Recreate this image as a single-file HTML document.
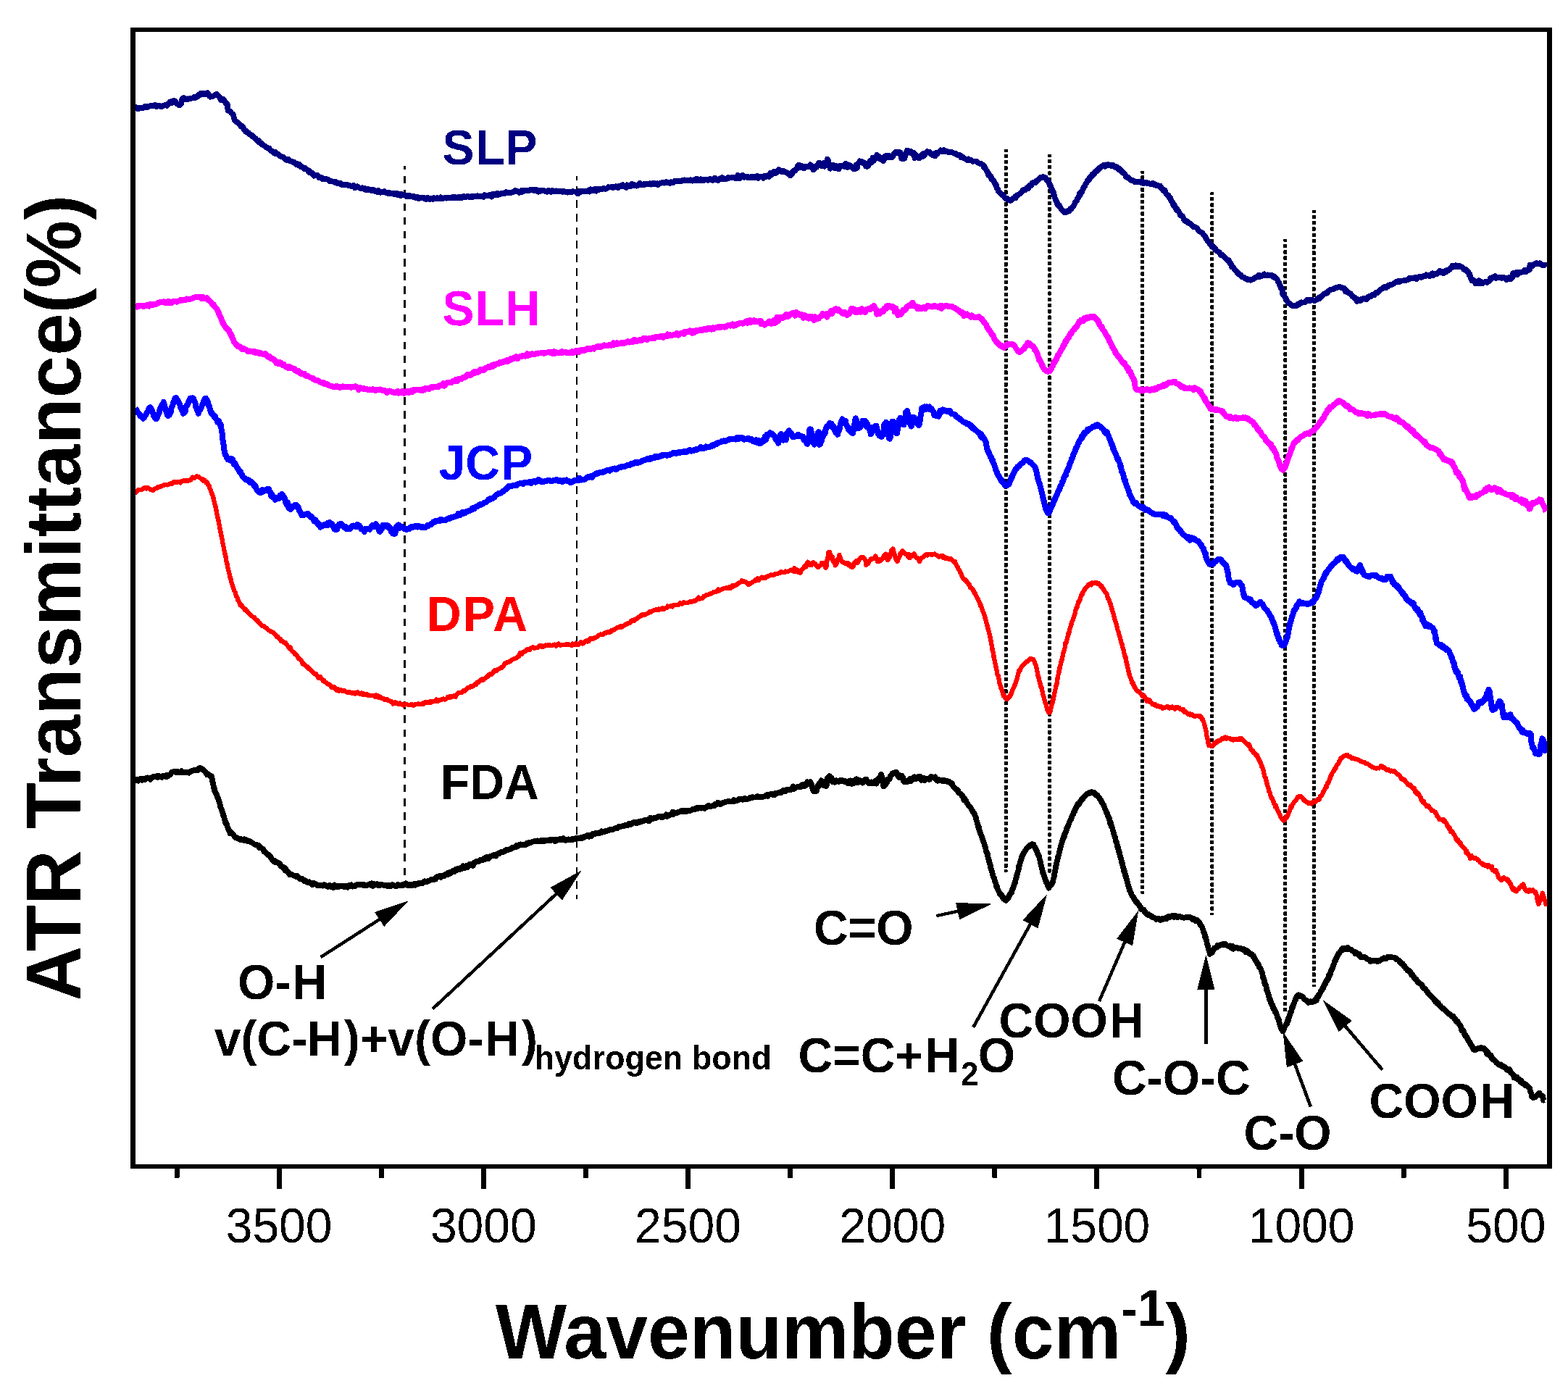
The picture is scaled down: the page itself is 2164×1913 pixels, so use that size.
<!DOCTYPE html>
<html><head><meta charset="utf-8"><title>ATR FTIR spectra</title>
<style>html,body{margin:0;padding:0;background:#fff;overflow:hidden}svg{display:block}</style>
</head><body>
<svg width="2164" height="1913" viewBox="0 0 2164 1913" font-family="'Liberation Sans', Arial, sans-serif"><rect x="0" y="0" width="2164" height="1913" fill="#fff"/><defs><filter id="bin" x="0" y="0" width="2164" height="1913" filterUnits="userSpaceOnUse"><feComponentTransfer><feFuncA type="discrete" tableValues="0 1"/></feComponentTransfer></filter></defs><g filter="url(#bin)"><line x1="558.4" y1="229" x2="558.4" y2="1223" stroke="#000" stroke-width="3.2" stroke-dasharray="10.2 8.9" stroke-dashoffset="5.4"/>
<line x1="796.1" y1="243" x2="796.1" y2="1240.6" stroke="#000" stroke-width="2.6" stroke-dasharray="10.5 8.3" stroke-dashoffset="4.5"/>
<line x1="1388.4" y1="206.0" x2="1388.4" y2="1203.4" stroke="#000" stroke-width="4.9" stroke-dasharray="5.2 3.1" stroke-dashoffset="1.5"/>
<line x1="1448.5" y1="213.0" x2="1448.5" y2="1205.0" stroke="#000" stroke-width="4.9" stroke-dasharray="5.2 3.1" stroke-dashoffset="1.5"/>
<line x1="1576.6" y1="235.8" x2="1576.6" y2="1233.6" stroke="#000" stroke-width="4.9" stroke-dasharray="5.2 3.1" stroke-dashoffset="1.5"/>
<line x1="1672.8" y1="265.2" x2="1672.8" y2="1263.0" stroke="#000" stroke-width="4.9" stroke-dasharray="5.2 3.1" stroke-dashoffset="1.5"/>
<line x1="1773.8" y1="330.1" x2="1773.8" y2="1396.4" stroke="#000" stroke-width="4.9" stroke-dasharray="5.2 3.1" stroke-dashoffset="1.5"/>
<line x1="1813.3" y1="290.0" x2="1813.3" y2="1362.3" stroke="#000" stroke-width="4.9" stroke-dasharray="5.2 3.1" stroke-dashoffset="1.5"/>
<polyline points="187.0,150.8 188.0,148.3 189.4,149.8 191.0,149.9 192.8,148.4 194.8,148.6 196.7,149.3 198.7,148.6 200.5,146.9 202.1,148.4 203.5,147.8 205.5,146.3 206.8,146.4 207.9,146.0 209.3,146.3 211.3,145.6 212.6,146.4 214.0,145.1 215.6,147.1 217.3,145.6 219.1,145.6 220.9,146.0 222.7,147.3 224.4,146.4 226.0,145.3 227.6,145.4 228.9,145.2 230.7,145.9 232.3,142.9 233.6,142.9 234.9,140.3 236.1,140.4 237.4,141.8 238.7,140.3 240.2,139.0 241.7,139.5 243.2,142.3 244.7,143.5 246.1,144.1 247.4,145.4 248.5,144.4 249.4,144.0 250.0,143.3 250.3,140.9 250.7,140.7 251.4,136.5 252.4,135.7 253.6,135.0 255.1,136.5 256.7,136.8 258.5,136.4 260.3,136.6 262.2,135.8 264.0,135.8 265.5,135.3 267.1,135.1 268.7,133.5 270.4,134.8 272.0,133.8 273.6,131.0 275.2,130.3 276.6,128.9 277.8,130.7 280.0,129.7 281.7,128.5 283.1,129.8 284.7,128.9 286.0,128.1 287.4,129.7 288.7,132.1 290.1,133.7 291.5,132.8 293.0,133.1 294.7,132.3 296.3,131.4 297.9,130.5 299.4,129.8 300.5,131.3 301.4,131.8 302.3,133.0 303.2,134.3 304.1,136.4 305.2,138.4 306.5,137.5 307.9,136.8 309.3,138.7 310.8,140.4 312.0,143.3 313.0,143.0 313.6,146.5 314.0,144.5 314.1,148.3 314.3,149.5 314.5,151.1 315.0,153.0 316.2,153.5 317.8,153.8 319.5,156.1 320.9,157.3 321.5,157.7 322.0,158.9 322.4,161.0 322.8,163.3 323.3,163.4 324.0,165.8 324.8,166.6 325.8,167.7 327.0,168.5 328.3,168.8 329.7,170.4 331.1,171.8 332.4,174.2 333.6,173.7 334.6,174.7 335.9,176.4 336.6,178.4 337.2,178.6 338.5,180.9 339.4,182.0 340.5,181.2 341.7,183.1 342.9,183.4 344.2,185.1 345.6,186.0 346.9,186.2 348.3,188.2 349.4,188.0 350.5,189.9 351.5,190.5 352.7,191.0 353.8,192.7 354.9,194.0 356.1,195.5 357.4,194.2 358.7,196.6 360.0,198.1 361.2,197.9 362.4,199.9 363.6,200.2 364.9,201.1 366.3,202.5 367.6,203.8 369.0,203.7 370.3,204.9 371.7,205.0 373.0,207.3 374.4,208.2 375.7,208.6 377.1,210.4 378.6,211.6 380.0,210.2 381.5,212.3 383.0,212.3 384.4,213.5 385.8,214.9 387.3,215.6 388.7,216.5 390.1,216.4 391.4,217.5 392.8,218.6 394.2,219.6 395.4,221.0 396.7,220.7 398.0,219.6 399.2,221.5 400.5,222.5 401.9,222.5 403.4,223.6 405.0,223.3 406.2,224.7 407.6,225.4 408.9,227.0 410.4,225.9 411.9,228.3 413.4,227.4 414.9,230.2 416.4,230.5 417.9,230.5 419.4,232.8 420.8,231.9 422.2,233.2 423.4,233.9 424.6,234.2 426.2,237.6 427.6,236.2 428.9,237.6 430.1,238.2 431.2,240.7 432.3,240.0 433.5,242.6 434.9,242.0 436.4,241.8 437.7,241.6 439.0,242.9 440.3,245.2 441.8,245.0 443.2,244.9 444.7,246.8 446.2,246.5 447.8,246.5 449.3,246.3 450.9,247.5 452.4,247.6 454.0,248.4 455.4,250.3 456.9,250.3 458.4,250.4 459.9,250.7 461.4,251.1 462.9,252.3 464.4,251.4 465.9,253.3 467.4,252.8 469.0,253.8 470.5,253.1 472.0,255.1 473.5,255.4 475.1,254.8 476.8,254.5 478.4,255.6 480.0,255.4 481.7,255.8 483.3,256.5 484.9,257.0 486.6,257.0 488.2,255.9 489.8,259.2 491.5,258.0 493.1,257.2 494.7,258.6 496.4,259.5 498.0,260.1 499.6,259.2 501.3,260.6 502.9,259.8 504.5,261.8 506.2,262.0 507.8,260.6 509.4,261.3 511.1,262.6 512.7,263.1 514.3,261.7 515.9,262.4 517.4,263.8 519.0,264.2 520.5,265.0 522.1,262.6 523.6,265.5 525.2,265.8 526.9,265.4 528.6,265.3 530.4,264.2 532.2,265.8 533.6,265.8 535.1,266.8 536.6,265.5 538.1,266.2 539.6,267.5 541.2,266.7 542.7,266.8 544.3,268.3 546.0,267.3 547.6,266.6 549.3,269.1 551.0,268.1 552.7,270.0 554.4,268.1 556.1,269.4 557.9,269.4 559.4,269.5 560.9,271.5 562.3,270.4 563.8,269.6 565.3,270.8 566.8,270.3 568.3,270.5 569.8,271.8 571.4,271.1 572.9,271.7 574.5,273.2 576.2,271.7 577.8,274.0 579.5,272.6 581.3,273.4 583.0,272.7 584.9,272.9 586.8,274.7 588.7,274.9 590.1,272.8 591.4,274.1 592.9,275.0 594.3,273.9 595.8,273.6 597.3,274.8 598.8,273.2 600.3,273.9 601.9,274.6 603.4,273.0 605.0,274.2 606.6,274.2 608.2,272.3 609.9,274.1 611.5,274.1 613.1,273.2 614.8,273.1 616.4,273.8 618.1,272.7 619.7,272.9 621.4,272.8 623.0,273.4 624.7,272.0 626.3,273.4 627.9,271.9 629.5,272.9 631.1,273.1 632.7,272.0 634.3,271.9 635.8,273.3 637.4,273.4 639.0,271.4 640.6,271.1 642.1,271.8 643.7,271.9 645.3,270.8 646.9,271.6 648.4,272.2 650.0,271.1 651.6,272.2 653.2,270.7 654.8,271.2 656.3,270.6 657.9,270.6 659.5,270.1 661.1,271.0 662.6,270.3 664.2,271.1 665.8,270.5 667.4,271.9 668.9,269.2 670.5,270.2 672.1,270.1 673.7,270.0 675.2,269.3 676.8,268.9 678.4,271.6 680.0,268.1 681.6,269.6 683.2,268.2 684.9,269.1 686.5,266.6 688.1,268.6 689.8,268.6 691.5,267.0 693.1,267.2 694.8,266.7 696.4,267.2 698.1,265.1 699.7,265.5 701.3,265.7 703.0,266.1 704.6,265.9 706.2,265.7 707.7,265.1 709.3,264.1 710.8,263.0 712.3,263.3 713.8,263.9 715.3,264.1 716.7,265.7 718.1,264.5 719.5,265.1 720.8,262.5 722.8,263.8 724.6,262.5 726.4,262.7 728.0,262.5 729.6,262.8 731.1,262.9 732.5,261.7 734.0,261.7 735.4,262.1 736.8,263.1 738.3,262.8 739.7,261.6 741.3,262.5 742.9,264.7 744.5,264.3 746.3,262.7 748.2,262.3 750.2,263.3 751.6,263.3 753.0,264.0 754.4,264.7 756.0,263.3 757.5,263.0 759.1,264.1 760.7,264.9 762.4,262.8 764.1,264.1 765.8,264.0 767.5,263.2 769.2,264.3 771.0,263.8 772.7,263.8 774.5,264.1 776.2,264.8 778.0,263.8 779.7,264.4 781.4,265.3 783.1,265.6 784.8,264.6 786.5,265.0 788.1,265.4 789.7,264.2 791.3,264.5 792.8,264.3 794.3,264.7 795.7,265.1 797.5,267.2 799.3,264.3 801.1,264.9 802.8,264.1 804.4,264.2 806.0,264.1 807.6,264.6 809.1,264.2 810.6,264.3 812.1,262.9 813.6,264.5 815.1,261.2 816.6,262.1 818.1,262.9 819.6,263.3 821.1,260.5 822.6,263.7 824.2,260.7 825.7,261.6 827.4,261.6 829.0,261.0 830.5,261.2 832.1,260.2 833.6,260.2 835.2,260.8 836.8,260.5 838.4,259.8 839.9,258.2 841.5,258.5 843.2,258.3 844.8,257.9 846.4,259.3 848.0,258.0 849.6,257.2 851.2,258.7 852.9,259.0 854.5,256.7 856.1,257.0 857.7,256.8 859.4,255.1 861.0,256.9 862.6,257.3 864.2,258.7 865.8,255.3 867.4,257.1 869.0,257.0 870.5,257.0 872.0,253.5 873.6,256.3 875.1,254.9 876.6,255.6 878.1,256.6 879.6,256.6 881.1,254.8 882.6,252.9 884.2,255.1 885.7,255.2 887.3,255.4 888.8,253.8 890.4,254.8 892.1,253.9 893.7,253.5 895.4,253.7 897.1,253.2 898.9,254.5 900.7,253.0 902.5,254.1 903.9,253.1 905.3,253.9 906.8,253.2 908.3,255.0 909.8,253.4 911.4,253.1 913.0,252.2 914.6,251.5 916.2,252.6 917.8,251.7 919.5,251.2 921.1,251.7 922.8,251.9 924.4,252.9 926.1,251.2 927.8,252.0 929.5,252.0 931.1,249.9 932.8,250.2 934.5,249.8 936.1,249.7 937.7,249.5 939.4,249.6 940.9,249.8 942.5,248.7 944.1,248.4 945.6,248.3 947.1,249.4 948.6,249.4 950.0,248.8 951.4,248.9 953.2,248.1 955.0,249.6 956.8,248.3 958.5,248.2 960.2,249.5 961.8,246.7 963.4,248.4 965.0,249.3 966.6,247.3 968.2,248.8 969.7,247.9 971.2,248.9 972.7,247.4 974.2,248.1 975.7,248.3 977.2,248.8 978.7,247.6 980.3,246.9 981.8,247.9 983.3,248.8 984.9,247.1 986.4,245.6 988.0,247.8 989.6,248.6 991.3,248.8 992.9,247.0 994.7,246.8 996.4,244.9 998.1,247.1 999.9,246.7 1001.6,247.4 1003.4,246.3 1005.1,244.9 1006.9,245.5 1008.6,245.3 1010.3,245.0 1012.0,245.0 1013.6,245.7 1015.2,245.0 1016.7,245.9 1018.2,241.7 1019.7,243.5 1021.1,246.0 1022.4,244.9 1023.6,244.6 1024.8,241.8 1027.2,244.8 1029.2,243.5 1030.8,244.9 1032.2,243.9 1033.5,244.9 1034.6,244.6 1035.8,244.5 1037.0,244.0 1038.4,245.0 1040.0,243.9 1041.5,244.9 1043.1,244.8 1044.8,243.0 1046.5,245.9 1048.3,243.6 1050.0,243.6 1051.8,244.0 1053.5,245.8 1055.2,242.5 1056.7,244.2 1058.2,243.4 1059.6,242.0 1061.5,243.8 1063.2,239.1 1064.7,241.5 1066.2,239.7 1067.5,237.1 1068.8,237.7 1070.1,239.0 1071.3,238.6 1073.0,235.6 1074.5,234.1 1075.9,234.7 1077.3,236.5 1079.1,237.3 1080.4,235.7 1081.9,236.6 1083.4,237.3 1085.0,238.3 1086.6,238.4 1088.1,239.9 1089.6,240.6 1090.9,242.5 1092.1,239.0 1093.1,240.0 1093.9,238.8 1094.7,236.0 1095.7,236.5 1097.0,235.8 1098.7,233.2 1099.9,233.1 1101.2,228.3 1102.7,227.9 1104.4,231.3 1106.1,228.5 1107.9,230.3 1109.6,232.3 1111.4,230.3 1113.0,229.4 1114.6,230.5 1116.0,230.1 1117.3,229.3 1118.3,227.2 1120.6,229.4 1121.2,230.7 1122.2,234.3 1123.1,234.3 1124.1,230.5 1125.3,229.8 1126.5,231.1 1127.7,227.9 1128.9,227.4 1130.0,224.6 1131.3,227.3 1132.7,225.6 1134.1,229.2 1135.5,226.9 1136.7,225.1 1137.8,229.7 1138.8,227.8 1139.7,226.5 1140.4,224.4 1141.1,224.3 1141.8,219.8 1142.5,221.5 1143.0,221.3 1143.6,224.1 1144.4,228.2 1145.7,232.7 1147.0,231.0 1148.5,228.0 1150.3,228.0 1152.1,232.0 1154.0,228.8 1155.8,230.9 1157.4,233.5 1159.1,228.8 1160.7,228.6 1162.3,228.8 1163.9,229.2 1165.5,229.7 1167.2,225.6 1168.6,229.6 1170.0,230.9 1171.5,227.6 1173.0,230.0 1174.6,229.2 1176.1,231.3 1177.5,232.7 1178.9,231.0 1180.2,233.1 1181.5,228.1 1182.8,231.9 1184.0,225.7 1185.2,225.3 1186.4,222.4 1187.6,224.0 1188.7,222.7 1190.1,223.5 1191.3,225.4 1192.4,226.2 1193.6,225.4 1195.0,229.5 1196.6,226.1 1197.6,229.4 1198.6,228.0 1199.8,226.3 1201.0,222.0 1202.2,222.3 1203.5,223.7 1204.7,217.8 1206.0,221.7 1207.2,218.3 1208.3,218.0 1209.3,217.5 1210.3,213.7 1212.0,218.5 1213.4,216.0 1214.7,217.4 1215.9,220.3 1217.0,218.1 1218.1,220.3 1219.2,222.1 1220.2,219.2 1221.2,215.7 1222.1,215.1 1223.0,216.6 1224.0,214.8 1225.4,217.3 1226.7,214.7 1228.1,216.5 1229.8,216.0 1230.8,217.1 1231.8,215.9 1232.9,214.5 1234.0,211.9 1235.2,211.9 1236.3,209.9 1237.5,211.4 1238.6,210.8 1239.7,210.2 1240.9,211.8 1242.0,210.0 1243.2,213.5 1244.3,218.7 1245.4,217.8 1246.4,218.9 1247.4,217.6 1248.3,218.5 1249.1,215.5 1249.8,214.1 1250.5,211.0 1251.3,212.1 1252.2,207.5 1253.3,208.7 1254.4,208.8 1255.5,209.7 1256.8,209.1 1258.2,211.9 1259.6,212.7 1261.0,210.8 1262.4,218.1 1263.8,213.7 1265.0,216.4 1266.5,217.1 1268.0,218.2 1269.4,218.1 1270.8,214.9 1272.2,213.2 1273.5,212.4 1274.8,215.6 1276.5,213.3 1278.2,210.5 1279.8,209.1 1281.3,210.3 1282.7,209.8 1284.2,212.2 1285.5,212.4 1286.8,214.2 1288.5,212.9 1289.6,211.9 1290.8,215.2 1292.1,211.0 1293.5,212.3 1295.0,210.1 1296.6,209.6 1298.3,207.4 1299.7,208.7 1301.2,209.3 1302.8,207.1 1304.4,209.0 1306.2,208.6 1307.9,209.7 1309.5,210.5 1311.1,210.4 1312.6,209.6 1314.0,210.5 1315.7,211.1 1317.2,212.0 1318.6,211.6 1319.9,213.2 1321.2,213.8 1322.5,214.1 1323.8,213.8 1325.2,214.4 1326.5,217.4 1327.8,216.6 1329.1,216.6 1330.4,218.7 1331.9,219.0 1333.5,219.7 1334.9,221.0 1336.4,219.3 1337.9,220.8 1339.5,220.8 1341.2,222.0 1342.8,223.0 1344.3,222.3 1345.8,222.5 1347.2,222.6 1348.8,224.2 1350.3,224.9 1351.8,225.6 1353.1,225.6 1354.5,226.0 1355.7,227.1 1357.0,228.4 1358.0,231.0 1358.9,230.1 1359.8,232.8 1360.6,233.7 1361.5,235.8 1362.3,236.6 1363.2,238.2 1364.0,241.7 1364.9,240.0 1365.8,242.0 1366.7,243.4 1367.6,243.7 1368.5,247.7 1369.4,247.6 1370.2,248.6 1371.1,249.3 1371.9,251.3 1372.7,252.2 1373.5,254.4 1374.3,255.8 1375.0,255.6 1375.6,260.0 1376.3,260.6 1377.0,260.9 1377.8,263.8 1378.6,264.4 1379.6,265.0 1380.7,266.5 1381.9,268.1 1383.1,269.3 1384.3,269.0 1385.4,269.9 1386.4,272.1 1387.9,273.5 1389.2,275.0 1390.6,274.2 1392.3,275.6 1393.5,276.7 1394.9,276.8 1396.4,275.5 1397.9,273.7 1399.4,273.9 1400.8,271.7 1402.0,272.8 1403.3,269.8 1404.3,269.6 1405.2,268.5 1406.3,268.3 1407.9,266.9 1408.9,266.2 1410.0,265.3 1411.3,263.0 1412.6,261.9 1414.0,262.6 1415.4,262.1 1416.8,259.5 1418.2,258.8 1419.5,259.7 1420.6,256.2 1421.6,256.7 1423.3,256.2 1424.4,252.9 1425.4,252.1 1426.4,251.8 1427.8,251.2 1429.0,251.9 1430.4,249.6 1431.9,249.7 1433.4,247.7 1434.9,246.0 1436.3,244.7 1437.6,245.5 1439.5,244.1 1441.2,244.8 1442.8,245.0 1444.5,248.1 1445.2,248.3 1445.9,250.1 1446.5,251.2 1447.2,250.9 1447.8,252.4 1448.5,253.8 1449.2,256.4 1449.9,256.4 1450.6,258.8 1451.3,260.8 1451.9,260.9 1452.4,264.5 1453.0,264.6 1453.6,264.7 1454.2,267.8 1454.8,269.1 1455.4,272.0 1456.0,273.3 1456.7,275.0 1457.3,277.0 1457.9,277.5 1458.5,278.3 1459.1,281.2 1460.1,283.3 1461.1,284.0 1462.1,283.5 1463.2,286.3 1464.2,288.1 1465.2,288.7 1466.1,290.4 1467.0,290.5 1468.5,292.3 1469.8,293.3 1471.1,293.5 1472.8,291.4 1473.7,291.2 1474.7,290.5 1475.8,291.0 1477.0,288.5 1478.2,288.7 1479.3,286.4 1480.5,285.4 1481.6,284.2 1482.6,282.9 1483.5,279.8 1484.3,278.9 1485.1,278.3 1485.8,277.6 1486.6,275.4 1487.3,273.3 1488.1,272.6 1488.8,272.4 1489.6,267.9 1490.5,269.2 1491.2,267.2 1491.9,264.8 1492.6,265.2 1493.3,264.6 1494.1,262.2 1494.9,260.6 1495.6,258.4 1496.4,257.8 1497.1,257.3 1497.9,254.5 1498.7,253.6 1499.4,252.2 1500.2,251.1 1501.2,248.7 1502.2,248.5 1503.1,247.8 1504.1,244.6 1505.1,243.8 1506.1,243.9 1507.1,241.0 1508.0,241.9 1509.0,239.5 1510.0,240.1 1511.2,237.1 1512.5,236.6 1513.7,236.4 1514.9,233.8 1516.1,234.0 1517.3,231.4 1518.6,231.3 1519.8,229.9 1521.5,229.1 1523.1,227.8 1524.8,229.6 1526.5,227.3 1528.1,228.4 1529.6,227.2 1531.3,227.9 1532.8,228.6 1534.2,228.3 1535.7,227.6 1537.4,230.1 1538.7,230.0 1539.9,230.0 1541.3,231.9 1542.6,231.1 1544.1,234.4 1545.6,233.4 1547.2,235.7 1548.3,236.7 1549.4,238.3 1550.6,238.8 1551.8,240.0 1553.1,241.6 1554.3,244.6 1555.6,245.0 1556.9,244.8 1558.2,246.3 1559.6,247.4 1560.9,248.8 1562.4,249.2 1563.9,249.1 1565.5,251.0 1567.0,251.0 1568.6,250.7 1570.2,251.3 1571.8,250.7 1573.4,251.0 1575.0,252.1 1576.6,250.6 1578.2,253.0 1579.8,252.3 1581.4,251.6 1583.0,253.3 1584.6,253.1 1586.2,253.3 1587.8,254.3 1589.3,254.3 1590.8,252.6 1592.2,254.7 1593.9,254.2 1595.5,256.1 1597.0,256.2 1598.5,256.1 1599.9,256.9 1601.3,256.6 1602.7,259.6 1604.0,260.5 1605.2,263.1 1606.3,263.2 1607.4,262.4 1608.4,265.4 1609.5,267.6 1610.5,268.2 1611.6,269.1 1612.6,269.6 1613.7,272.5 1614.5,273.0 1615.3,273.4 1616.1,276.8 1616.9,278.1 1617.7,278.9 1618.5,279.3 1619.3,283.1 1620.1,282.2 1620.9,284.6 1621.7,285.0 1622.6,287.7 1623.5,289.4 1624.4,288.4 1625.3,291.0 1626.3,291.4 1627.2,292.7 1628.2,294.9 1629.2,297.6 1630.1,297.6 1631.2,298.6 1632.2,298.4 1633.2,301.1 1634.2,303.2 1635.3,304.9 1636.5,305.1 1637.7,305.0 1639.0,307.0 1640.2,307.3 1641.5,308.5 1642.8,308.3 1644.1,309.8 1645.4,311.0 1646.6,313.1 1647.8,312.7 1649.0,313.3 1650.3,313.7 1651.5,314.5 1652.7,316.0 1653.9,317.8 1655.1,319.1 1656.3,319.9 1657.4,320.4 1658.5,320.7 1659.6,321.8 1660.7,324.2 1661.7,324.6 1662.6,325.1 1663.5,326.7 1664.4,329.3 1665.3,329.9 1666.2,331.6 1667.0,333.0 1667.9,334.3 1668.7,334.6 1669.6,336.5 1670.5,336.9 1671.6,337.9 1672.6,340.3 1673.6,339.7 1674.6,340.8 1675.7,342.6 1676.7,342.4 1677.9,345.2 1679.0,346.1 1680.3,347.0 1681.4,347.5 1682.6,348.1 1683.8,350.1 1685.1,352.0 1686.4,351.7 1687.7,352.8 1689.0,354.4 1690.3,355.4 1691.6,356.1 1692.8,357.5 1694.0,359.4 1695.0,358.7 1696.1,359.4 1697.1,363.0 1698.0,363.6 1699.0,364.1 1700.0,368.4 1700.9,367.4 1701.9,368.6 1702.8,370.3 1703.8,372.1 1704.7,372.1 1705.7,374.1 1706.9,375.1 1708.1,377.7 1709.2,377.3 1710.4,378.8 1711.6,380.1 1712.8,380.0 1714.0,382.1 1715.1,382.7 1716.3,382.6 1717.5,383.8 1719.2,384.8 1721.0,385.0 1722.7,386.3 1724.5,385.6 1726.1,386.7 1727.7,385.8 1729.2,385.4 1730.9,384.3 1732.2,383.2 1733.5,382.7 1735.0,382.4 1737.0,379.7 1738.3,382.0 1739.7,380.3 1741.3,380.6 1743.0,380.5 1744.7,378.3 1746.5,380.0 1748.2,379.7 1749.8,379.4 1751.3,380.5 1752.7,380.1 1754.4,380.4 1756.0,380.2 1757.4,382.5 1758.7,381.5 1760.0,383.1 1761.3,384.2 1762.5,385.8 1763.2,386.4 1763.9,389.0 1764.6,389.8 1765.2,389.8 1765.9,392.7 1766.5,394.7 1767.2,395.4 1767.8,397.5 1768.4,398.9 1769.0,399.1 1769.7,401.2 1770.3,406.0 1771.1,405.2 1771.9,405.9 1772.6,408.9 1773.4,410.6 1774.2,411.0 1775.0,412.1 1775.8,414.1 1776.5,415.9 1777.3,417.0 1778.1,417.9 1779.4,418.7 1780.6,419.2 1781.8,420.8 1783.1,421.7 1784.5,421.7 1786.0,421.7 1787.3,422.1 1788.6,422.4 1790.0,421.7 1791.5,419.7 1793.0,420.5 1794.5,418.0 1796.1,417.2 1797.7,417.7 1799.2,417.4 1800.8,417.2 1802.4,415.3 1804.1,413.5 1805.8,414.7 1807.4,413.9 1808.9,414.6 1810.2,414.5 1811.4,413.9 1813.1,414.6 1814.0,415.0 1815.1,414.6 1817.1,413.9 1818.1,412.8 1819.2,412.6 1820.4,410.5 1821.7,411.8 1823.1,408.9 1824.5,408.5 1826.0,407.2 1827.5,405.4 1828.9,404.9 1830.4,404.0 1831.7,404.5 1833.0,402.3 1834.2,401.3 1836.0,400.0 1837.6,399.6 1839.2,399.4 1840.7,398.5 1842.2,397.8 1843.6,397.2 1844.9,397.4 1846.2,396.6 1847.8,396.0 1849.1,395.8 1850.4,397.1 1851.7,397.2 1853.1,397.8 1854.8,397.5 1855.9,400.5 1857.0,402.5 1858.3,401.2 1859.6,402.9 1861.0,403.7 1862.3,404.8 1863.7,405.1 1865.0,407.1 1866.3,408.8 1867.4,409.5 1868.5,411.1 1870.1,411.0 1871.4,412.7 1872.6,415.9 1873.8,413.1 1875.2,413.7 1877.1,414.9 1878.3,413.3 1879.7,413.7 1881.2,412.2 1882.7,411.5 1884.3,412.7 1885.9,413.3 1887.6,410.8 1889.3,409.2 1891.0,409.6 1892.6,408.8 1894.2,406.8 1895.5,407.0 1896.8,407.1 1898.1,404.4 1899.5,404.1 1900.8,404.1 1902.1,402.6 1903.4,402.2 1904.7,400.2 1906.0,399.3 1907.4,398.7 1908.7,397.7 1910.0,396.4 1911.3,397.3 1912.7,397.1 1914.2,395.2 1915.6,395.4 1917.0,393.3 1918.4,393.1 1919.9,393.4 1921.3,392.4 1922.7,391.9 1924.1,390.9 1925.6,390.0 1927.0,388.7 1928.4,388.9 1929.9,388.0 1931.4,389.2 1932.8,388.1 1934.3,387.8 1935.7,387.3 1937.1,387.2 1938.6,386.5 1940.2,387.0 1941.9,386.2 1943.6,386.0 1945.5,383.6 1946.9,383.6 1948.4,384.2 1949.9,383.6 1951.5,383.5 1953.2,383.0 1954.9,385.2 1956.6,382.4 1958.3,382.7 1960.1,381.7 1961.8,383.0 1963.5,381.7 1965.2,380.5 1966.8,381.2 1968.3,379.3 1969.8,380.3 1971.2,379.6 1973.1,381.1 1975.0,379.4 1976.7,377.4 1978.4,380.1 1980.1,377.6 1981.6,377.8 1983.1,378.4 1984.6,376.4 1985.9,376.0 1987.2,373.9 1988.4,375.7 1990.7,375.5 1992.4,377.1 1993.9,374.5 1995.3,375.5 1996.9,372.7 1998.1,373.1 1999.3,372.9 2000.5,372.2 2001.7,369.8 2002.9,369.4 2004.2,367.2 2005.5,368.5 2007.1,367.1 2008.8,366.2 2010.5,368.5 2012.3,368.4 2014.1,366.6 2015.8,368.2 2017.1,368.2 2018.5,369.1 2019.9,371.5 2021.2,372.2 2022.5,371.4 2023.8,372.2 2025.0,375.2 2026.0,374.6 2027.0,377.3 2027.8,380.0 2028.4,378.4 2029.0,381.1 2029.6,383.8 2030.3,383.9 2031.2,387.3 2032.4,387.6 2033.6,386.7 2034.9,387.9 2036.4,391.4 2037.9,390.4 2039.7,391.4 2041.0,387.3 2042.5,391.4 2044.1,388.8 2045.7,391.2 2047.4,389.4 2049.0,389.4 2050.6,388.5 2052.1,389.8 2053.4,388.6 2054.8,388.2 2056.0,387.3 2057.0,383.9 2058.0,385.1 2059.1,383.1 2060.4,383.4 2062.0,381.7 2063.3,381.2 2064.7,384.0 2066.2,382.4 2067.8,382.9 2069.5,382.8 2071.2,382.5 2072.9,384.0 2074.6,383.0 2076.2,383.5 2077.7,383.6 2079.1,386.2 2080.6,384.7 2082.0,383.2 2083.3,382.8 2084.5,385.3 2085.7,382.6 2086.9,383.4 2088.2,377.1 2089.6,378.9 2091.1,378.8 2092.5,376.0 2094.1,379.1 2095.7,375.7 2097.4,376.4 2099.2,376.1 2100.9,375.1 2102.6,375.0 2104.3,372.6 2105.7,375.5 2107.1,372.4 2108.2,372.7 2109.9,371.2 2110.9,372.5 2111.5,365.4 2112.2,366.9 2113.4,366.0 2114.8,367.4 2116.4,364.8 2118.1,364.7 2119.9,363.2 2121.8,363.4 2123.6,364.1 2125.3,363.2 2127.1,365.6 2129.0,365.9 2130.8,365.5 2132.5,365.8 2134.0,366.8 2135.0,367.9" fill="none" stroke="#000080" stroke-width="7.8" stroke-linejoin="round" stroke-linecap="butt"/>
<polyline points="187.0,421.5 187.9,422.6 189.1,423.6 190.5,422.0 192.1,422.7 193.8,422.3 195.7,421.7 197.6,423.1 199.6,421.9 201.0,422.2 202.4,421.1 204.0,422.0 205.6,422.7 207.2,420.1 208.9,420.4 210.6,421.4 212.3,419.7 214.1,420.1 215.8,419.6 217.4,419.0 219.1,417.5 220.7,417.3 222.4,416.8 224.1,417.0 225.8,416.4 227.5,417.9 229.1,417.5 230.8,417.7 232.5,415.9 234.1,417.8 235.7,416.7 237.2,417.9 238.7,416.2 240.4,416.3 242.0,415.7 243.6,416.6 245.1,415.4 246.6,415.6 248.0,415.4 249.5,413.8 251.1,413.8 252.7,414.5 254.4,413.9 255.9,414.3 257.5,412.3 259.2,413.2 260.9,412.8 262.6,412.7 264.4,412.1 266.1,411.6 267.8,410.4 269.5,410.2 271.1,409.8 272.5,410.3 273.9,410.2 276.0,410.1 277.8,412.0 279.5,409.9 281.1,411.5 282.6,411.4 284.1,412.1 285.7,411.1 286.9,414.4 288.1,414.5 289.4,415.3 290.7,417.0 291.9,418.0 293.1,420.1 294.3,419.9 295.4,420.9 296.5,423.8 297.4,424.4 298.4,425.7 299.3,426.8 300.0,427.7 300.7,430.0 301.3,430.3 302.0,432.2 302.6,434.3 303.3,435.6 303.9,436.3 304.6,438.3 305.2,439.5 305.8,441.3 306.4,443.0 307.1,444.8 307.8,447.0 308.5,446.5 309.2,448.3 310.1,450.1 311.0,451.2 312.0,452.7 313.0,453.3 314.0,455.0 315.0,456.1 316.0,456.1 317.0,459.3 317.7,460.9 318.4,460.8 319.0,462.9 319.7,463.3 320.3,465.6 321.0,467.4 321.7,467.8 322.4,470.3 323.1,472.2 323.9,473.0 324.8,473.5 325.9,475.6 327.2,477.6 328.5,477.1 329.9,477.8 331.3,478.5 332.7,480.9 334.0,482.2 335.4,481.0 336.6,481.2 338.2,482.3 339.6,482.6 341.0,484.5 342.4,485.4 344.1,484.4 346.3,484.8 347.5,485.2 348.8,485.5 350.1,484.7 351.6,486.4 353.1,487.2 354.7,485.8 356.3,486.6 357.9,487.9 359.5,487.1 361.2,488.5 362.8,489.0 364.4,489.2 365.9,488.2 367.3,489.7 368.7,491.7 370.1,492.5 371.5,491.8 372.9,492.9 374.3,495.2 375.7,494.8 377.1,495.4 378.5,497.1 379.9,498.2 381.3,500.7 382.7,499.4 384.1,502.2 385.5,501.9 387.0,500.4 388.5,502.2 390.0,504.0 391.5,503.0 393.0,505.3 394.5,506.2 396.0,506.0 397.5,507.9 399.0,506.0 400.5,506.6 402.0,508.4 403.5,508.6 405.0,508.5 406.4,508.9 407.8,511.5 409.2,512.4 410.6,512.4 412.0,512.1 413.4,513.3 414.8,515.7 416.2,515.3 417.6,515.5 419.0,516.5 420.4,515.9 421.8,518.8 423.2,519.3 424.6,518.7 426.1,519.8 427.6,520.5 429.1,521.5 430.6,522.0 432.1,521.7 433.6,524.0 435.2,524.3 436.7,525.3 438.2,525.2 439.7,525.8 441.2,527.2 442.7,527.7 444.2,528.1 445.7,528.0 447.1,529.6 448.5,529.2 449.9,529.8 451.3,529.8 452.7,531.4 454.1,532.0 455.6,532.3 457.1,533.0 458.6,533.3 460.3,533.9 462.0,534.3 463.8,533.0 465.2,533.0 466.7,534.1 468.2,534.8 469.8,535.0 471.5,533.9 473.2,533.2 474.9,534.1 476.7,534.2 478.4,534.3 480.2,533.8 482.0,533.9 483.7,534.7 485.4,534.5 487.1,533.9 488.7,534.1 490.2,533.1 491.7,533.9 493.1,534.2 495.1,538.0 496.9,534.6 498.7,535.8 500.4,536.5 502.0,536.1 503.5,536.9 505.0,536.9 506.5,537.1 508.0,538.3 509.6,537.5 511.1,537.6 512.7,538.1 514.3,537.2 516.0,537.7 517.6,539.0 519.2,538.3 520.8,537.5 522.5,537.7 524.1,537.4 525.7,537.7 527.3,538.7 528.9,538.9 530.6,539.2 532.2,539.3 533.9,541.9 535.6,540.1 537.4,539.3 539.1,540.4 540.9,540.5 542.7,541.7 544.4,541.7 546.1,541.6 547.7,540.5 549.2,539.8 550.6,542.5 551.8,541.8 553.9,541.9 555.1,540.0 556.1,541.5 557.5,542.9 560.0,540.4 561.2,539.9 562.5,540.4 563.9,542.0 565.4,540.1 567.0,539.4 568.6,540.9 570.4,538.3 572.1,538.5 573.9,538.4 575.7,538.3 577.5,538.3 579.3,538.5 581.1,537.8 582.8,538.9 584.5,536.8 586.0,538.0 587.6,535.4 589.1,535.6 590.6,536.5 592.1,536.9 593.7,534.9 595.2,534.2 596.7,535.2 598.2,534.1 599.7,533.9 601.3,534.1 602.8,534.3 604.3,534.6 605.8,532.2 607.4,532.1 608.9,532.4 610.4,532.1 612.0,529.3 613.5,532.5 615.0,529.9 616.6,528.6 618.1,528.2 619.6,528.4 621.1,527.5 622.7,528.0 624.2,526.9 625.7,525.6 627.3,525.7 628.8,524.3 630.3,526.3 631.9,524.9 633.4,522.5 634.9,523.1 636.5,523.3 638.0,521.6 639.5,520.9 641.0,521.0 642.6,520.4 644.1,518.1 645.6,516.8 647.1,516.8 648.6,517.9 650.2,517.3 651.7,515.3 653.2,513.8 654.7,515.2 656.3,512.7 657.8,514.0 659.3,513.9 660.9,513.0 662.4,511.2 663.9,509.7 665.4,510.7 667.0,510.8 668.5,510.5 670.0,507.7 671.6,508.0 673.1,507.3 674.6,505.8 676.2,507.1 677.7,505.6 679.2,504.2 680.8,505.5 682.3,503.1 683.8,503.6 685.4,502.2 686.9,501.5 688.4,501.8 690.0,500.0 691.5,500.6 693.0,500.6 694.6,499.1 696.1,499.1 697.6,498.6 699.2,497.2 700.7,499.0 702.2,497.4 703.7,496.9 705.3,494.6 706.8,494.9 708.3,495.5 709.9,493.2 711.4,493.5 712.9,492.2 714.4,495.0 716.0,492.5 717.5,492.2 719.0,491.8 720.5,492.1 722.0,490.5 723.6,491.2 725.1,491.8 726.6,491.0 728.1,488.3 729.7,490.4 731.2,489.6 732.8,488.5 734.4,488.5 735.9,488.6 737.4,489.3 738.9,488.7 740.4,487.4 741.9,487.6 743.5,487.6 745.0,487.4 746.6,487.2 748.3,486.6 750.0,487.8 751.8,486.5 753.7,486.8 755.7,486.4 757.1,485.9 758.4,486.4 759.9,486.4 761.4,486.1 762.9,487.9 764.4,485.3 766.0,487.5 767.6,486.2 769.2,486.9 770.8,487.2 772.5,486.3 774.1,487.1 775.8,485.4 777.5,486.6 779.2,485.8 780.8,486.4 782.5,486.5 784.2,486.7 785.9,486.7 787.5,486.7 789.2,485.2 790.8,487.3 792.4,486.1 794.0,486.1 795.6,483.6 797.2,484.5 798.8,486.0 800.4,484.2 802.0,483.1 803.6,483.5 805.2,483.6 806.8,483.8 808.4,481.9 810.0,481.3 811.5,481.5 813.1,480.9 814.7,482.1 816.3,481.2 817.9,480.3 819.5,481.5 821.1,479.7 822.7,479.2 824.3,478.2 825.9,478.8 827.5,477.7 829.1,479.4 830.7,478.2 832.3,477.2 833.9,476.2 835.5,476.7 837.1,476.6 838.7,477.2 840.3,476.1 841.9,475.7 843.5,476.8 845.1,475.9 846.7,473.3 848.2,475.4 849.8,474.5 851.4,473.3 853.0,474.7 854.6,474.3 856.2,474.1 857.8,472.8 859.4,473.5 861.0,474.2 862.6,472.5 864.2,472.6 865.8,471.2 867.4,471.5 869.0,472.5 870.6,472.0 872.2,470.7 873.8,471.8 875.4,468.8 877.0,470.4 878.6,470.7 880.2,470.7 881.8,469.5 883.4,469.3 884.9,470.0 886.5,469.4 888.1,466.9 889.7,467.6 891.3,467.1 892.9,468.9 894.5,467.6 896.1,467.0 897.7,466.9 899.3,467.3 900.9,465.9 902.5,467.3 904.1,465.4 905.7,464.7 907.3,465.0 908.9,465.2 910.5,465.2 912.1,463.7 913.7,463.5 915.3,465.7 916.9,464.5 918.5,463.4 920.1,464.3 921.6,461.5 923.2,462.4 924.8,462.5 926.4,462.6 928.0,462.7 929.6,462.2 931.2,462.2 932.8,461.7 934.4,460.1 936.0,462.6 937.6,461.4 939.2,460.5 940.8,459.7 942.4,459.3 944.0,461.0 945.6,457.9 947.2,458.3 948.8,458.2 950.4,457.9 952.0,456.5 953.6,458.4 955.2,459.8 956.8,457.2 958.4,458.9 960.0,456.2 961.5,456.0 963.1,456.6 964.7,455.4 966.3,455.9 967.9,455.2 969.5,455.8 971.1,454.3 972.7,453.8 974.3,455.3 975.9,453.2 977.5,453.2 979.1,453.7 980.7,452.8 982.3,454.5 984.0,452.4 985.6,453.6 987.2,452.6 988.8,452.3 990.5,452.3 992.1,450.9 993.7,451.7 995.3,451.6 996.9,450.6 998.5,450.4 1000.1,451.6 1001.7,451.0 1003.3,449.8 1004.9,448.8 1006.4,449.2 1008.0,449.7 1009.5,449.1 1011.0,447.5 1012.5,449.9 1014.2,449.2 1016.0,448.5 1017.7,446.9 1019.5,446.9 1021.3,445.9 1023.1,446.2 1024.9,446.7 1026.6,445.3 1028.4,445.3 1030.1,443.2 1031.8,445.7 1033.4,444.1 1035.0,442.1 1036.6,444.8 1038.0,443.4 1039.5,442.9 1040.8,442.2 1042.0,443.9 1043.2,443.1 1044.3,444.2 1047.1,443.2 1048.9,444.6 1050.0,443.3 1050.9,447.5 1052.0,446.0 1053.7,446.4 1055.0,448.5 1056.5,447.4 1058.1,446.2 1059.8,445.9 1061.5,443.6 1063.2,446.4 1064.9,446.8 1066.5,444.9 1068.0,442.0 1069.4,446.2 1071.1,443.5 1072.5,438.0 1073.8,443.5 1075.0,437.8 1076.2,437.6 1077.6,437.4 1079.1,439.0 1080.5,438.7 1081.9,438.1 1083.4,435.9 1085.0,434.3 1086.6,436.9 1088.2,436.3 1089.8,435.0 1091.3,432.9 1092.8,432.9 1094.5,431.8 1096.0,433.1 1097.5,435.6 1099.0,431.0 1100.6,432.1 1102.4,434.2 1104.6,435.1 1105.9,433.9 1107.3,436.2 1108.8,438.7 1110.4,434.9 1112.1,435.9 1113.9,437.8 1115.6,439.4 1117.3,437.1 1119.0,436.5 1120.7,439.7 1122.2,438.2 1123.7,442.0 1125.0,437.4 1126.1,439.6 1128.5,439.4 1130.0,439.6 1131.1,437.5 1132.3,437.1 1133.9,436.4 1135.2,433.1 1136.7,434.2 1138.2,434.8 1139.8,433.4 1141.4,437.5 1142.9,432.9 1144.4,431.9 1145.7,432.3 1147.2,428.9 1148.4,433.0 1149.5,429.8 1150.6,428.1 1151.9,426.9 1153.5,426.1 1154.8,426.8 1156.2,428.7 1157.8,427.5 1159.4,429.6 1161.1,431.1 1162.7,432.4 1164.3,433.2 1165.8,430.9 1167.2,433.1 1168.8,435.2 1170.1,433.0 1171.4,433.2 1172.6,431.7 1173.9,429.6 1175.3,425.5 1177.0,428.7 1178.3,426.5 1179.8,430.5 1181.3,428.4 1182.9,431.2 1184.6,427.7 1186.2,427.6 1187.9,430.8 1189.5,426.3 1191.1,428.4 1192.6,429.5 1194.2,431.2 1195.9,426.9 1197.6,427.0 1199.2,426.0 1200.9,426.9 1202.4,424.6 1203.8,423.2 1205.1,423.5 1206.3,422.0 1207.5,424.8 1208.4,427.0 1209.1,427.3 1209.7,431.5 1210.3,433.6 1211.1,433.0 1212.2,430.3 1213.2,431.3 1214.2,432.9 1215.4,430.9 1216.6,428.9 1217.9,428.7 1219.1,430.2 1220.4,425.8 1221.7,426.0 1222.9,426.0 1224.0,422.4 1225.8,422.7 1227.5,422.2 1229.1,423.5 1230.7,424.1 1232.2,423.0 1233.7,424.9 1234.9,430.3 1236.0,425.2 1237.1,428.8 1238.2,430.2 1239.3,435.1 1240.4,431.0 1241.6,431.3 1242.7,434.1 1243.9,432.8 1245.2,430.8 1246.4,427.9 1247.7,428.4 1249.0,428.1 1250.2,426.4 1251.3,423.5 1252.7,422.3 1253.9,422.4 1255.1,421.4 1256.4,421.0 1257.7,421.9 1259.2,417.7 1260.5,419.5 1261.9,422.6 1263.5,423.2 1265.1,423.0 1266.6,426.2 1268.2,424.1 1269.6,426.5 1270.9,426.1 1272.6,425.6 1273.9,424.2 1275.2,423.8 1276.7,426.1 1278.7,423.4 1280.0,421.5 1281.3,422.1 1282.8,422.7 1284.4,422.4 1286.1,423.5 1287.7,423.2 1289.4,421.6 1291.1,423.3 1292.8,423.5 1294.4,423.2 1296.0,423.7 1297.6,422.3 1299.3,425.8 1300.9,422.2 1302.6,423.2 1304.2,422.5 1305.7,421.5 1307.3,422.2 1308.7,422.7 1310.0,423.4 1311.7,423.1 1313.2,423.0 1314.5,423.1 1315.8,424.5 1317.0,425.1 1318.3,425.0 1319.8,427.1 1321.0,426.8 1322.3,428.5 1323.5,428.9 1324.8,430.7 1326.1,431.5 1327.5,430.6 1328.8,432.6 1330.2,435.8 1331.6,433.3 1333.1,435.1 1334.6,433.5 1336.2,435.1 1337.9,435.6 1339.5,437.4 1341.1,435.6 1342.6,437.0 1344.0,437.7 1345.3,437.7 1347.2,437.7 1348.8,438.2 1350.3,437.3 1351.6,437.2 1353.1,439.1 1354.1,439.6 1355.0,440.5 1356.0,441.5 1357.0,443.2 1358.0,445.2 1358.9,445.3 1359.9,447.4 1360.9,447.6 1361.8,451.0 1362.7,452.3 1363.6,452.4 1364.5,455.6 1365.4,455.8 1366.3,457.1 1367.2,458.1 1368.0,459.8 1368.8,461.4 1369.7,461.4 1370.5,463.0 1371.3,465.1 1372.1,466.7 1372.9,469.1 1373.7,469.3 1374.6,471.1 1375.6,472.8 1376.8,472.6 1377.9,474.1 1379.2,476.1 1380.3,477.4 1381.5,476.6 1382.5,477.8 1384.0,477.8 1385.3,479.8 1386.6,477.5 1388.3,478.0 1389.7,474.8 1391.3,475.7 1393.1,475.4 1394.8,474.6 1396.5,474.9 1398.1,476.2 1399.2,475.9 1400.3,477.5 1401.3,479.0 1402.3,481.1 1403.3,482.1 1404.2,483.4 1405.1,485.1 1406.0,485.6 1407.6,485.9 1408.9,484.7 1410.3,483.9 1411.8,482.3 1412.8,481.9 1413.9,479.6 1415.0,478.9 1416.1,476.6 1417.3,476.4 1418.4,473.1 1419.6,474.6 1420.9,473.9 1422.3,476.0 1423.7,477.3 1425.1,478.5 1426.4,478.2 1427.8,483.0 1428.5,481.7 1429.2,484.2 1429.8,484.0 1430.5,486.7 1431.2,487.2 1431.9,488.8 1432.6,492.1 1433.2,493.1 1433.9,496.9 1434.5,496.0 1435.1,496.5 1435.7,497.9 1436.5,499.8 1437.3,501.9 1438.0,503.7 1438.7,504.0 1439.3,506.8 1440.0,507.5 1440.7,508.6 1441.5,510.2 1443.1,511.0 1444.8,512.6 1446.5,512.6 1448.4,512.6 1449.1,511.4 1449.8,510.6 1450.6,509.6 1451.3,507.1 1452.1,506.3 1452.9,505.1 1453.7,503.3 1454.5,499.8 1455.4,500.2 1456.3,498.1 1457.2,496.0 1457.9,496.0 1458.6,494.2 1459.4,491.7 1460.2,489.6 1461.0,490.4 1461.8,487.9 1462.6,486.4 1463.4,484.8 1464.2,483.2 1465.0,482.3 1465.8,481.1 1466.6,479.9 1467.4,477.2 1468.2,475.4 1468.9,475.8 1469.8,473.7 1470.6,470.6 1471.4,471.1 1472.2,469.2 1473.0,468.1 1473.8,466.0 1474.6,466.6 1475.4,464.3 1476.2,462.3 1477.0,460.4 1477.8,460.6 1478.7,459.9 1479.6,457.7 1480.5,456.6 1481.5,455.2 1482.4,455.0 1483.4,452.3 1484.4,452.5 1485.4,450.3 1486.4,450.2 1487.4,448.3 1488.4,445.6 1489.4,444.0 1490.5,444.8 1491.8,442.0 1493.2,442.9 1494.6,443.0 1496.0,439.3 1497.4,440.6 1498.8,439.2 1500.2,438.0 1501.6,439.2 1502.9,437.8 1504.1,437.5 1505.7,437.1 1507.2,438.2 1508.6,438.1 1509.9,437.1 1511.2,438.8 1512.5,440.1 1513.9,441.5 1514.7,442.3 1515.6,442.5 1516.4,446.2 1517.2,446.1 1518.1,448.9 1518.9,450.4 1519.8,450.9 1520.6,450.7 1521.4,453.9 1522.2,455.4 1523.0,455.8 1523.7,457.1 1524.6,458.0 1525.4,459.1 1526.2,461.5 1527.0,463.2 1527.7,463.6 1528.5,465.3 1529.2,465.1 1530.0,467.0 1530.7,470.0 1531.5,471.7 1532.2,471.6 1532.9,473.6 1533.5,474.7 1534.1,476.6 1534.8,478.9 1535.4,478.5 1536.1,481.0 1536.8,481.1 1537.6,482.6 1538.5,483.8 1539.4,487.4 1540.2,486.9 1541.1,489.2 1542.0,490.4 1542.9,491.4 1543.9,492.2 1545.0,493.9 1546.0,495.2 1547.1,496.9 1548.1,498.1 1549.2,500.3 1550.2,500.8 1551.2,500.7 1552.2,501.2 1553.1,504.6 1554.0,504.9 1554.9,507.5 1555.9,508.1 1556.8,507.9 1557.7,512.2 1558.7,512.1 1559.6,512.4 1560.4,514.0 1561.3,517.7 1562.1,518.2 1562.8,521.0 1563.6,522.0 1564.2,522.2 1564.8,523.2 1565.5,526.0 1565.9,527.5 1566.2,529.3 1566.3,530.4 1566.5,533.3 1566.7,534.4 1567.1,535.2 1567.7,537.0 1568.7,537.8 1569.8,537.5 1571.0,538.1 1572.5,538.0 1574.0,539.4 1575.7,537.7 1577.4,539.6 1579.2,538.6 1581.0,537.8 1582.8,537.0 1584.6,538.0 1586.3,538.6 1587.8,539.0 1589.3,537.2 1590.8,537.2 1592.4,537.8 1594.0,536.0 1595.6,537.3 1597.1,535.9 1598.7,534.1 1600.2,534.7 1601.7,533.6 1603.2,533.7 1604.6,532.1 1605.9,531.2 1607.7,532.6 1609.3,531.2 1610.8,529.7 1612.3,528.6 1613.7,527.9 1615.1,528.2 1616.5,528.2 1618.0,527.3 1619.6,526.9 1620.9,526.5 1622.3,528.1 1623.7,529.4 1625.1,529.7 1626.5,530.6 1627.9,530.5 1629.4,533.7 1630.8,533.2 1632.3,533.6 1633.8,535.6 1635.3,534.9 1636.9,535.9 1638.5,536.1 1640.2,535.7 1641.9,535.4 1643.6,535.8 1645.3,535.8 1647.0,537.8 1648.6,535.2 1650.1,536.5 1651.6,536.6 1652.9,537.8 1654.1,537.7 1655.2,538.9 1656.1,541.1 1657.0,540.0 1657.9,542.6 1658.7,544.6 1659.5,545.3 1660.2,545.9 1661.0,548.4 1661.8,549.1 1662.7,549.4 1663.6,553.7 1664.5,553.5 1665.3,555.3 1666.2,556.2 1667.0,558.5 1667.9,559.6 1668.8,560.3 1669.7,561.3 1670.6,564.4 1671.5,564.9 1672.5,564.1 1674.1,564.4 1675.6,565.6 1677.3,566.3 1678.9,565.1 1680.7,566.1 1682.4,566.1 1684.2,566.8 1685.3,566.7 1686.4,568.2 1687.5,567.6 1688.6,571.0 1689.7,571.3 1690.9,573.1 1692.1,574.6 1693.4,575.2 1694.8,575.5 1696.3,576.6 1697.9,575.1 1699.2,577.1 1700.6,576.7 1702.2,577.7 1703.8,577.0 1705.4,576.0 1707.2,577.9 1708.9,577.5 1710.6,576.6 1712.4,577.3 1714.1,576.6 1715.7,576.2 1717.3,576.7 1718.8,576.4 1720.2,576.5 1721.4,578.5 1723.0,577.6 1724.5,579.3 1725.8,580.2 1726.9,581.8 1728.0,582.2 1729.0,582.3 1730.0,583.5 1730.9,586.2 1732.0,585.9 1733.1,588.3 1734.1,589.7 1735.0,590.7 1736.0,593.2 1737.0,592.5 1737.9,594.8 1738.9,595.8 1739.8,596.3 1740.8,598.4 1741.8,601.3 1742.8,601.7 1743.8,602.4 1744.9,603.5 1745.8,604.1 1746.8,607.6 1747.8,608.2 1748.8,609.3 1749.8,610.2 1750.8,612.3 1751.9,612.6 1752.9,613.8 1753.9,613.0 1754.9,617.0 1755.9,619.2 1756.8,617.9 1757.7,620.3 1758.6,620.9 1759.3,623.3 1760.0,624.0 1760.7,625.3 1761.4,626.8 1762.1,631.5 1762.8,632.4 1763.4,633.1 1764.1,635.3 1764.7,635.8 1765.3,638.0 1765.8,641.0 1766.4,640.3 1766.9,643.4 1767.4,644.7 1767.9,644.4 1768.3,647.1 1770.0,647.0 1771.0,648.7 1772.3,646.3 1772.8,645.0 1773.3,645.7 1773.8,644.1 1774.4,642.6 1775.0,640.8 1775.5,639.0 1776.1,637.4 1776.8,635.2 1777.4,632.7 1778.1,632.0 1778.6,629.0 1779.2,628.9 1779.7,627.5 1780.3,627.1 1780.8,623.4 1781.4,623.1 1782.0,619.3 1782.6,619.6 1783.2,618.4 1783.9,615.8 1784.6,614.3 1785.3,612.0 1786.0,612.3 1787.0,610.6 1788.1,608.5 1789.3,608.5 1790.4,606.7 1791.7,607.0 1792.9,604.9 1794.1,604.1 1795.4,602.9 1796.5,601.8 1797.7,601.5 1799.3,600.8 1800.9,599.1 1802.6,598.6 1804.1,598.0 1805.7,597.6 1807.2,599.0 1808.6,596.1 1809.9,595.7 1811.2,595.1 1812.4,594.0 1813.6,594.0 1814.7,592.0 1815.9,591.3 1817.1,589.4 1818.1,588.4 1819.0,587.3 1820.0,585.6 1820.9,585.0 1821.9,582.4 1822.8,581.9 1823.8,581.6 1824.7,578.0 1825.7,577.9 1826.5,577.1 1827.3,576.4 1828.1,573.0 1828.9,572.8 1829.6,570.5 1830.4,570.1 1831.3,568.5 1832.2,565.6 1833.1,565.3 1834.2,565.7 1835.4,562.0 1836.7,561.8 1838.0,561.5 1839.5,560.6 1840.9,558.3 1842.4,557.5 1843.9,556.8 1845.3,554.4 1846.6,555.5 1847.9,553.1 1849.5,554.0 1851.1,554.6 1852.6,554.9 1854.0,556.4 1855.4,558.4 1856.8,558.9 1858.2,560.7 1859.5,559.9 1860.7,562.1 1861.9,561.7 1863.1,564.8 1864.4,564.4 1865.7,564.9 1867.0,565.3 1868.5,566.4 1869.9,568.3 1871.3,569.3 1872.8,568.7 1874.4,569.5 1875.9,571.5 1877.5,570.8 1879.1,569.9 1880.7,570.8 1882.2,571.6 1883.7,571.3 1885.3,572.2 1886.9,573.8 1888.5,571.0 1890.0,572.9 1891.6,573.6 1893.1,573.6 1894.5,573.4 1895.9,573.0 1897.6,573.1 1899.1,571.9 1900.6,572.0 1902.0,572.0 1903.4,572.0 1904.8,570.8 1906.2,571.7 1907.6,571.0 1909.0,571.4 1910.4,570.9 1911.8,572.4 1913.2,572.7 1914.8,573.6 1916.4,574.6 1917.8,574.9 1919.3,574.6 1920.8,575.0 1922.4,576.8 1924.1,577.1 1925.7,578.5 1927.2,576.6 1928.7,579.0 1930.1,579.0 1931.5,582.0 1932.8,582.3 1934.1,582.9 1935.2,582.5 1936.4,583.7 1937.7,584.7 1939.0,587.3 1940.4,588.8 1941.5,587.4 1942.8,588.3 1944.0,589.8 1945.3,592.5 1946.7,592.1 1948.0,595.3 1949.4,596.0 1950.6,595.1 1951.9,598.5 1953.0,599.2 1954.1,600.9 1955.6,600.4 1956.9,602.8 1958.1,603.0 1959.3,604.4 1960.4,605.3 1961.5,606.1 1962.7,607.4 1963.9,609.0 1965.0,610.5 1966.2,609.5 1967.3,612.1 1968.5,614.3 1969.8,615.0 1971.2,616.2 1972.5,616.8 1974.0,618.1 1975.5,617.6 1977.1,617.9 1978.7,618.5 1980.2,620.0 1981.8,620.1 1983.2,621.0 1984.3,622.1 1985.4,622.6 1986.5,625.3 1987.5,627.7 1988.6,627.0 1989.6,629.4 1990.6,631.5 1991.6,632.2 1992.5,634.1 1993.5,633.1 1995.1,635.1 1996.6,635.3 1998.0,635.9 1999.4,635.7 2000.8,637.7 2002.1,637.9 2002.9,636.9 2003.7,639.4 2004.4,638.0 2005.1,641.7 2005.9,643.2 2006.6,644.3 2007.3,644.6 2008.1,645.7 2008.9,649.8 2009.8,652.4 2010.8,653.1 2011.8,651.5 2012.8,652.4 2013.8,657.7 2014.8,656.5 2015.8,658.1 2016.7,660.2 2017.5,662.3 2018.1,662.5 2018.7,663.6 2019.2,665.8 2019.6,667.2 2020.0,670.7 2020.5,669.0 2020.9,673.1 2021.4,675.8 2022.0,674.1 2022.6,675.4 2023.5,676.9 2024.5,679.1 2025.6,680.7 2026.7,683.9 2027.8,687.0 2029.0,685.5 2030.1,685.3 2031.2,686.9 2032.6,685.5 2033.8,686.3 2035.1,686.0 2036.5,686.2 2038.0,683.1 2039.7,683.7 2040.9,683.3 2042.1,682.0 2043.5,680.6 2044.9,680.5 2046.3,680.0 2047.8,678.5 2049.3,676.1 2050.7,677.9 2052.1,673.6 2053.4,674.5 2055.0,672.5 2056.6,674.5 2058.2,676.3 2059.7,676.1 2061.2,674.5 2062.7,673.2 2064.1,674.7 2065.4,675.8 2066.9,678.7 2068.2,675.5 2069.4,676.3 2070.6,676.2 2072.1,679.7 2074.0,679.6 2075.2,680.9 2076.6,681.0 2078.1,681.9 2079.7,682.5 2081.4,683.3 2083.1,683.3 2084.8,682.7 2086.5,686.2 2088.1,683.3 2089.6,686.0 2091.1,688.8 2092.6,686.3 2094.2,688.9 2095.7,689.6 2097.2,691.4 2098.7,691.9 2100.1,689.3 2101.4,694.1 2102.7,691.1 2103.8,694.8 2104.8,691.0 2106.3,693.2 2107.4,697.6 2108.1,697.1 2108.9,698.9 2109.9,699.8 2110.9,702.5 2111.9,701.6 2113.0,696.1 2114.2,696.7 2115.4,693.8 2116.8,695.2 2118.1,693.5 2119.6,693.4 2121.2,692.1 2122.8,692.4 2124.3,689.4 2125.8,690.7 2127.1,690.0 2128.0,693.1 2128.9,695.2 2129.8,696.7 2130.6,698.6 2131.3,698.8 2132.0,701.2 2132.6,702.8 2133.1,705.3 2133.5,705.8" fill="none" stroke="#ff00ff" stroke-width="8.0" stroke-linejoin="round" stroke-linecap="butt"/>
<polyline points="187.0,562.9 187.6,564.8 188.3,565.1 189.1,568.0 190.1,569.7 191.1,570.2 192.2,571.5 193.4,573.9 194.5,573.6 195.6,575.4 196.6,576.0 197.6,577.7 198.5,577.0 199.5,574.6 200.4,573.9 201.3,572.9 202.2,569.9 203.1,569.2 204.0,567.8 204.9,565.2 205.8,563.5 206.6,564.5 207.4,562.0 208.3,564.3 209.1,564.6 209.8,567.1 210.6,569.1 211.3,570.5 212.0,573.9 212.8,573.2 213.5,576.2 214.3,577.0 215.2,578.0 215.8,576.5 216.5,577.6 217.2,573.9 217.9,572.7 218.6,572.2 219.4,570.5 220.1,568.1 220.8,563.8 221.6,562.7 222.3,561.6 223.0,559.9 223.7,558.7 224.4,557.3 225.0,557.1 225.8,554.8 226.5,558.8 227.2,559.3 227.9,563.9 228.6,565.4 229.2,567.4 229.9,569.6 230.6,572.1 231.3,572.1 232.0,573.8 232.8,573.4 233.4,572.7 233.9,572.6 234.5,570.5 235.1,569.8 235.7,568.4 236.3,565.2 236.9,561.8 237.5,561.5 238.1,559.9 238.8,557.1 239.4,555.2 240.0,553.7 240.7,553.1 241.3,550.4 242.0,549.2 242.6,549.2 243.4,549.3 244.1,552.2 245.0,551.6 245.8,553.3 246.6,555.3 247.5,557.3 248.3,558.8 249.1,561.9 249.9,563.5 250.7,566.1 251.5,566.2 252.2,568.9 252.8,570.8 253.4,570.4 254.2,569.1 254.8,568.7 255.4,568.9 255.8,566.6 256.2,564.8 256.7,561.9 257.1,560.9 257.7,560.2 258.3,558.4 259.3,558.3 260.3,554.6 261.4,551.9 262.6,549.5 263.8,549.5 265.0,550.3 266.1,550.9 266.7,549.5 267.3,550.7 267.9,553.4 268.4,553.8 269.0,555.6 269.6,556.7 270.2,561.6 270.8,561.9 271.4,564.7 272.0,565.3 272.6,567.5 273.2,567.7 273.9,570.8 274.6,568.0 275.3,566.3 276.1,566.2 276.8,564.8 277.6,562.8 278.4,561.1 279.2,558.3 280.0,556.6 280.8,554.5 281.5,553.1 282.3,551.9 283.0,550.0 283.7,550.3 284.4,549.9 285.0,551.2 285.6,551.9 286.2,554.5 286.8,554.4 287.4,558.6 288.0,558.4 288.6,561.5 289.2,561.5 289.7,564.5 290.3,566.4 290.9,569.2 291.5,568.1 292.5,571.0 293.5,571.8 294.5,572.9 295.6,575.4 296.6,574.1 297.6,576.7 298.5,578.6 299.4,579.4 300.2,582.4 301.0,581.3 301.7,580.7 302.4,582.3 303.1,585.6 303.8,584.8 304.5,587.9 305.2,587.5 305.5,591.9 305.7,595.9 305.9,595.8 306.2,596.7 306.4,597.2 306.6,598.0 306.9,601.5 307.1,603.2 307.3,604.8 307.5,608.4 307.8,609.4 308.0,610.3 308.3,609.7 308.5,613.8 308.8,614.3 309.0,617.9 309.3,617.9 309.6,623.7 309.8,623.0 310.1,623.9 310.4,626.6 310.8,626.2 311.1,626.8 312.2,629.9 313.3,632.3 314.6,634.2 315.9,632.8 317.2,634.8 318.5,632.7 319.7,636.3 320.9,633.8 321.9,636.6 322.8,640.7 323.6,639.7 324.5,639.7 325.3,641.0 326.2,643.1 327.0,645.6 327.8,646.5 328.7,647.2 329.6,649.7 330.4,650.0 331.2,652.1 332.0,650.7 332.8,654.0 333.7,654.5 334.6,657.3 335.6,658.8 336.6,659.5 337.7,660.1 339.0,662.1 340.3,662.0 341.6,662.8 343.0,662.4 344.4,665.5 345.8,664.4 347.1,665.3 348.3,667.2 349.4,667.6 350.4,670.3 351.4,669.1 352.4,670.6 353.3,672.6 354.3,676.1 355.2,677.1 356.2,677.9 357.1,678.5 358.1,679.8 359.5,680.4 360.8,679.7 362.2,675.9 363.6,678.2 365.0,677.5 366.4,676.6 367.9,675.5 368.9,674.8 369.9,675.8 371.0,674.9 372.1,679.0 373.2,679.4 374.3,684.6 375.4,682.5 376.5,686.0 377.6,686.0 378.6,687.7 379.6,689.7 381.1,688.3 382.5,688.4 383.9,686.4 385.3,687.7 386.7,683.5 388.0,685.0 389.4,682.1 390.2,683.7 391.0,685.3 391.8,687.7 392.7,686.9 393.5,690.6 394.3,693.8 395.1,692.9 395.9,696.7 396.8,693.2 397.6,697.8 398.4,701.5 399.2,700.9 400.9,703.3 402.5,699.5 404.2,700.3 405.9,698.8 407.5,696.6 409.0,696.9 409.9,698.4 410.8,699.2 411.6,700.2 412.4,702.8 413.2,705.5 414.0,705.7 414.8,707.6 415.8,710.1 416.8,711.5 418.2,711.3 419.8,710.5 421.4,709.7 423.1,709.4 424.9,708.8 426.7,711.1 428.5,713.8 429.6,712.4 430.7,714.5 431.8,716.1 433.0,718.2 434.2,719.8 435.3,717.3 436.5,719.9 437.7,720.5 438.9,723.9 440.0,723.1 441.1,724.6 442.2,727.8 443.8,724.8 445.3,725.8 446.9,724.3 448.3,724.3 449.8,725.4 451.2,725.6 452.6,721.6 454.0,723.5 455.3,721.2 456.7,724.1 458.0,722.7 459.3,725.2 460.5,727.3 461.7,730.7 462.8,728.5 463.8,727.6 465.1,730.6 466.1,728.2 467.0,726.3 468.1,723.5 469.6,723.3 470.8,723.0 472.1,724.1 473.6,725.8 475.1,727.9 476.7,727.2 478.3,730.1 479.9,728.8 481.4,730.1 482.9,730.4 484.4,728.5 485.9,725.6 487.4,725.4 488.9,725.8 490.3,726.7 491.7,726.3 493.1,723.7 494.5,727.1 495.9,725.3 497.1,727.2 498.4,730.1 499.7,730.2 501.2,731.0 502.9,734.0 504.1,729.9 505.5,730.1 507.0,730.2 508.6,729.8 510.2,730.7 511.8,727.9 513.4,725.2 514.9,726.0 516.3,726.9 517.5,724.3 518.6,723.1 520.1,725.6 521.2,726.7 522.0,728.8 522.7,729.8 523.4,733.0 524.4,733.7 525.4,732.6 526.4,730.5 527.4,729.1 528.5,725.2 529.7,726.7 531.0,725.0 532.3,725.4 533.4,724.9 534.5,727.3 535.8,726.0 537.1,727.5 538.4,728.4 539.7,733.4 540.9,732.9 542.1,736.5 543.1,735.1 544.0,737.0 544.9,736.0 545.5,736.0 545.8,729.1 546.1,729.6 546.4,728.0 547.0,726.6 547.9,727.1 549.0,725.6 550.2,724.4 551.6,729.0 553.1,727.9 554.7,727.0 556.3,728.2 558.0,730.2 559.6,730.5 561.0,730.8 562.5,729.6 564.1,730.2 565.6,729.6 567.2,727.3 568.8,726.9 570.4,727.6 572.0,726.9 573.5,725.5 575.0,726.5 576.6,727.5 578.1,725.9 579.6,726.8 581.1,727.7 582.6,727.5 584.2,727.4 585.7,727.8 587.2,727.7 588.6,726.5 589.9,725.1 591.2,725.8 592.6,724.7 593.9,724.6 595.3,722.7 596.6,722.5 598.0,720.4 599.4,721.0 600.9,719.0 602.4,718.7 603.9,719.3 605.5,718.1 607.0,719.2 608.6,716.8 610.2,717.3 611.8,717.7 613.4,718.3 615.0,717.9 616.6,716.8 618.2,716.0 619.7,716.2 621.2,714.4 622.7,714.5 624.2,714.4 625.7,713.2 627.3,712.7 628.9,712.3 630.6,712.4 632.3,709.1 633.6,709.2 635.0,710.8 636.3,708.8 637.7,707.0 639.0,708.7 640.4,706.7 641.8,708.2 643.3,706.2 644.9,705.6 646.5,705.5 648.2,704.9 649.9,704.4 651.8,701.4 653.0,702.5 654.2,702.4 655.4,700.9 656.8,699.3 658.1,699.2 659.5,698.9 660.9,696.8 662.3,696.3 663.8,696.8 665.3,695.5 666.7,695.1 668.2,693.9 669.7,693.5 671.2,692.7 672.7,691.2 674.1,689.4 675.6,689.9 677.0,687.7 678.4,687.8 679.7,688.1 681.0,686.9 682.3,686.4 683.8,684.3 685.3,682.7 686.7,682.3 688.1,681.1 689.5,681.4 690.9,680.4 692.3,679.9 693.6,678.1 694.9,678.1 696.2,676.8 697.6,675.2 698.9,675.2 700.2,673.5 701.5,671.1 702.8,671.7 704.1,670.8 705.5,671.3 706.8,670.6 708.3,669.5 709.9,669.7 711.4,669.5 712.9,670.3 714.4,668.0 716.0,667.5 717.5,667.4 719.0,667.3 720.5,667.2 722.0,667.9 723.6,666.1 725.1,666.1 726.6,666.1 728.1,665.8 729.7,665.6 731.2,665.1 732.8,667.1 734.3,664.9 735.9,664.9 737.3,663.8 738.8,665.5 740.3,664.6 741.8,664.1 743.3,661.9 744.8,662.6 746.4,664.7 748.1,664.5 749.9,664.9 751.7,664.0 753.6,664.4 755.7,663.2 757.1,662.8 758.5,663.2 759.9,664.1 761.4,664.1 763.0,663.5 764.6,662.7 766.2,663.2 767.8,662.0 769.5,662.7 771.2,664.1 772.9,662.9 774.6,663.8 776.4,665.1 778.1,662.9 779.8,663.3 781.6,662.4 783.3,664.0 785.0,663.6 786.7,665.7 788.4,665.3 790.0,665.4 791.7,663.8 793.3,662.9 794.8,663.2 796.4,663.4 797.9,663.6 799.5,659.9 801.0,661.9 802.5,662.6 804.0,661.7 805.5,661.9 807.0,661.8 808.5,660.6 809.9,658.9 811.4,658.4 812.8,658.8 814.3,657.9 815.7,656.9 817.2,659.0 818.6,656.1 820.1,655.2 821.6,654.9 823.1,653.3 824.5,654.0 826.0,652.7 827.6,652.1 829.1,652.2 830.6,651.7 832.1,652.0 833.6,650.8 835.1,650.6 836.6,649.8 838.1,649.0 839.6,648.7 841.2,649.8 842.7,648.1 844.2,647.8 845.8,647.0 847.3,646.5 848.8,646.6 850.4,648.2 851.9,646.8 853.5,645.8 855.0,644.8 856.6,645.0 858.1,644.1 859.7,644.1 861.2,644.3 862.7,643.8 864.3,642.6 865.8,642.0 867.3,642.2 868.9,642.4 870.4,640.9 871.9,639.5 873.4,640.4 875.0,639.6 876.5,638.2 878.0,638.7 879.6,637.9 881.1,638.6 882.6,637.8 884.1,637.8 885.7,636.1 887.2,635.8 888.7,635.0 890.3,634.7 891.8,634.3 893.3,633.2 894.9,633.2 896.4,634.3 897.9,632.1 899.4,632.9 901.0,632.2 902.5,632.3 904.1,629.9 905.7,630.6 907.3,631.2 908.9,629.8 910.5,630.4 912.1,628.9 913.7,628.3 915.3,628.8 916.9,627.7 918.5,627.9 920.1,628.9 921.6,627.6 923.2,628.3 924.8,627.1 926.4,627.1 928.0,625.6 929.6,624.6 931.2,624.9 932.8,626.1 934.4,625.7 936.0,624.2 937.6,624.6 939.2,624.5 940.8,624.2 942.4,624.4 944.1,622.6 945.7,622.4 947.4,624.0 949.1,622.4 950.8,621.2 952.5,621.2 954.1,622.6 955.8,622.0 957.5,621.8 959.1,620.4 960.8,620.2 962.4,620.7 964.0,619.7 965.6,618.9 967.2,617.1 968.7,619.1 970.2,618.7 971.7,617.9 973.2,618.5 974.5,616.4 975.9,617.5 977.8,616.8 979.5,616.8 981.2,616.0 982.9,614.4 984.4,615.4 985.9,613.7 987.4,612.8 988.9,613.1 990.3,611.3 991.7,610.9 993.1,610.4 994.5,610.6 995.9,608.9 997.3,609.4 998.8,608.4 1000.3,609.1 1001.9,608.9 1003.6,607.5 1005.3,607.6 1007.1,605.5 1008.8,606.3 1010.5,606.3 1012.3,605.7 1014.0,605.5 1015.7,606.3 1017.3,603.6 1018.9,606.3 1020.5,603.8 1022.0,604.8 1023.4,603.5 1024.8,604.4 1026.7,606.6 1028.5,606.1 1030.2,605.4 1031.8,605.4 1033.3,605.2 1034.8,606.9 1036.1,605.8 1037.5,606.1 1038.7,609.1 1040.0,609.2 1041.9,610.1 1043.5,607.1 1045.0,611.0 1046.4,611.5 1048.0,608.5 1049.8,611.5 1050.9,608.5 1052.1,610.1 1053.4,609.3 1054.7,605.7 1056.0,602.3 1057.3,607.1 1058.6,600.1 1059.9,600.6 1061.2,600.3 1062.4,597.2 1063.5,597.5 1064.8,599.3 1066.1,599.0 1067.3,601.0 1068.4,601.2 1069.6,603.0 1070.6,606.6 1071.6,607.3 1072.5,607.8 1073.3,608.3 1074.3,611.6 1075.0,609.2 1075.5,605.8 1076.0,603.0 1076.5,600.5 1077.2,600.2 1078.1,598.8 1079.0,602.0 1080.0,604.5 1081.1,607.7 1082.1,607.6 1083.1,607.0 1083.8,606.0 1084.6,607.2 1085.3,600.5 1086.0,597.9 1086.7,598.7 1087.4,597.2 1088.2,596.4 1088.9,594.3 1089.8,595.7 1090.6,597.5 1091.5,599.1 1092.4,598.6 1093.5,602.8 1094.8,602.8 1096.2,602.9 1097.8,602.1 1099.6,602.3 1101.4,599.8 1103.3,601.8 1105.0,602.1 1106.5,602.5 1107.9,602.5 1109.2,607.0 1110.4,605.5 1111.5,608.0 1112.5,607.6 1113.5,612.5 1114.4,612.8 1114.9,608.3 1115.3,608.0 1115.6,607.2 1115.9,607.8 1116.2,602.2 1116.5,603.6 1116.7,599.4 1117.0,598.3 1117.3,593.0 1117.6,595.0 1117.9,592.3 1118.3,592.2 1118.7,593.2 1119.1,592.6 1119.5,594.8 1119.9,597.6 1120.4,599.9 1120.8,599.6 1121.3,602.1 1121.8,603.8 1122.2,611.0 1122.7,608.8 1123.2,610.0 1123.6,610.8 1124.1,613.6 1124.7,610.2 1125.3,609.0 1126.0,608.0 1126.6,609.1 1127.3,606.5 1127.9,603.7 1128.5,599.3 1129.1,597.1 1129.6,598.7 1130.0,596.1 1130.4,597.7 1130.6,599.2 1130.7,601.0 1130.7,602.8 1130.8,602.8 1130.9,609.2 1131.1,613.9 1131.5,613.6 1132.0,610.9 1132.4,612.7 1132.9,608.4 1133.5,609.5 1134.2,607.0 1134.8,604.0 1135.6,602.7 1136.3,600.9 1137.0,598.0 1137.8,596.0 1138.5,598.2 1139.3,594.3 1140.0,591.0 1140.6,591.0 1141.2,588.3 1141.8,589.3 1143.5,587.5 1144.8,584.0 1146.1,584.8 1147.6,584.8 1148.5,588.0 1149.4,590.3 1150.4,588.2 1151.4,591.4 1152.5,595.5 1153.5,597.3 1154.5,595.5 1155.5,598.3 1156.1,599.8 1156.8,595.6 1157.4,593.8 1158.0,594.2 1158.6,591.7 1159.2,588.8 1159.8,585.4 1160.4,585.5 1161.1,581.3 1161.8,579.9 1162.5,578.4 1163.3,580.2 1164.1,581.4 1164.9,580.9 1165.9,580.7 1166.8,580.7 1167.8,585.4 1168.8,587.6 1169.8,589.0 1170.7,592.8 1171.7,591.2 1172.6,594.2 1173.5,595.3 1174.3,596.5 1175.0,595.9 1175.8,596.4 1176.6,593.7 1177.3,597.9 1177.9,590.8 1178.4,590.1 1179.0,588.4 1179.5,584.3 1179.9,585.5 1180.4,578.7 1180.9,577.3 1181.5,581.7 1182.0,580.0 1182.5,584.9 1183.0,588.5 1183.5,590.5 1184.1,588.0 1184.8,591.1 1185.5,590.2 1186.2,588.4 1187.0,590.1 1187.9,588.7 1188.8,584.8 1189.7,584.4 1190.7,580.4 1191.6,580.4 1192.6,580.8 1193.4,580.8 1194.2,581.6 1195.0,581.9 1195.9,588.6 1196.8,584.7 1197.7,588.3 1198.6,589.6 1199.5,591.9 1200.3,593.4 1201.1,595.0 1201.8,599.4 1202.4,596.6 1203.3,596.7 1203.9,593.2 1204.3,589.9 1204.8,590.2 1205.4,590.9 1206.3,589.4 1206.9,591.3 1207.6,589.8 1208.4,591.9 1209.3,587.6 1210.2,591.7 1211.1,594.9 1212.0,599.5 1212.9,599.7 1213.8,601.4 1214.6,600.1 1215.4,600.5 1216.1,602.8 1216.7,603.0 1217.3,600.1 1217.8,599.8 1218.4,600.1 1218.8,600.0 1219.3,594.9 1219.7,593.1 1220.2,586.2 1220.6,586.7 1221.1,584.7 1221.5,584.5 1222.0,584.5 1222.5,583.9 1222.9,582.6 1223.4,587.5 1223.9,588.4 1224.4,592.2 1224.8,591.9 1225.3,595.4 1225.8,598.6 1226.2,600.8 1226.7,603.4 1227.1,604.8 1227.5,604.8 1227.9,605.6 1228.2,603.9 1228.5,604.9 1228.8,603.8 1229.1,598.7 1229.4,594.4 1229.6,595.1 1229.9,595.5 1230.1,594.4 1230.3,589.8 1230.6,584.8 1230.9,583.2 1231.2,585.6 1231.5,583.9 1231.8,581.5 1232.4,584.9 1233.0,581.9 1233.7,587.8 1234.3,591.7 1235.0,591.0 1235.7,594.6 1236.4,597.4 1237.0,597.4 1237.6,597.0 1238.0,598.3 1238.4,595.9 1238.7,593.9 1239.0,593.2 1239.3,585.1 1239.6,589.4 1239.9,583.2 1240.2,585.5 1240.5,583.1 1240.8,579.5 1241.2,579.9 1241.6,579.1 1242.5,576.7 1243.5,577.5 1244.5,579.9 1245.5,583.9 1246.5,584.3 1247.4,586.4 1247.9,581.9 1248.3,583.8 1248.6,581.4 1249.0,578.4 1249.3,576.7 1249.7,576.1 1250.0,569.2 1250.4,569.9 1250.8,572.1 1251.3,571.7 1251.8,569.2 1252.4,567.2 1253.0,575.0 1253.6,573.1 1254.2,575.9 1254.9,582.3 1255.5,582.2 1256.1,584.5 1256.7,586.5 1257.2,587.1 1257.8,588.6 1258.4,583.1 1258.9,580.1 1259.3,579.1 1259.8,578.5 1260.4,576.0 1261.1,576.3 1261.9,576.2 1262.9,582.7 1264.0,581.1 1265.0,583.2 1266.1,585.2 1267.1,585.6 1268.0,587.0 1268.4,586.7 1268.8,583.8 1269.1,583.6 1269.4,584.2 1269.7,578.8 1270.0,578.3 1270.3,575.6 1270.6,574.7 1270.9,572.7 1271.2,569.8 1271.6,569.5 1272.0,563.6 1272.4,563.2 1272.9,565.4 1274.2,562.2 1275.8,561.5 1277.4,565.4 1279.2,561.4 1281.0,562.1 1282.7,561.4 1283.8,565.2 1284.8,564.1 1286.0,564.5 1287.1,567.0 1288.2,568.0 1289.4,572.8 1290.4,571.1 1291.5,572.6 1292.5,574.0 1293.4,573.1 1294.5,571.9 1295.5,574.7 1296.3,569.6 1297.1,570.0 1297.9,566.5 1299.0,569.1 1300.3,566.5 1301.5,565.3 1302.9,566.2 1304.4,567.0 1306.0,567.7 1307.7,567.1 1309.3,568.5 1311.0,567.3 1312.5,570.8 1314.0,571.1 1315.4,571.5 1316.8,572.2 1318.1,572.2 1319.4,575.0 1320.7,575.2 1322.0,576.7 1323.3,577.5 1324.5,577.9 1325.7,579.4 1327.2,580.3 1328.6,581.5 1329.9,582.5 1331.3,582.8 1332.6,582.9 1334.0,585.0 1335.5,584.4 1336.7,584.9 1338.0,586.2 1339.3,588.7 1340.6,587.4 1341.9,590.8 1343.2,589.9 1344.6,592.8 1345.9,592.8 1347.2,594.4 1348.3,595.6 1349.4,596.2 1350.6,597.0 1351.8,598.6 1353.0,601.4 1354.2,599.3 1355.3,604.1 1356.3,602.9 1357.3,603.9 1358.2,605.6 1359.0,607.7 1359.8,607.9 1360.3,609.6 1360.7,609.8 1361.1,612.4 1361.3,614.4 1361.6,615.5 1361.9,617.9 1362.3,619.6 1362.9,621.0 1363.4,623.1 1364.0,622.8 1364.6,624.2 1365.2,626.8 1365.9,627.0 1366.6,630.6 1367.2,630.1 1367.9,631.1 1368.7,633.2 1369.3,635.5 1370.0,634.7 1370.7,638.9 1371.3,640.0 1371.9,640.4 1372.5,642.0 1373.1,644.6 1373.7,646.2 1374.3,648.5 1374.9,649.3 1375.5,651.0 1376.1,652.9 1376.7,653.7 1377.3,655.9 1378.0,656.4 1378.6,657.0 1379.6,660.1 1380.6,660.4 1381.6,663.6 1382.7,662.8 1383.7,666.1 1384.7,666.6 1385.7,668.0 1386.6,669.1 1387.4,670.4 1389.1,669.0 1390.5,669.8 1392.3,668.3 1392.8,667.5 1393.4,665.3 1394.0,663.2 1394.6,661.8 1395.2,662.1 1395.9,658.7 1396.6,659.0 1397.3,657.4 1398.0,655.3 1398.8,652.8 1399.6,651.7 1400.4,650.0 1401.2,648.5 1402.0,646.9 1403.0,646.9 1404.2,644.3 1405.4,643.5 1406.6,643.5 1407.9,641.4 1409.2,639.9 1410.5,639.3 1411.7,638.9 1412.8,637.0 1413.9,635.3 1414.9,635.3 1415.7,634.5 1417.7,635.2 1418.7,635.5 1420.0,637.3 1421.1,637.8 1422.5,638.0 1423.9,640.1 1425.4,641.6 1426.7,642.5 1427.8,644.1 1428.4,644.6 1428.9,645.7 1429.3,647.4 1429.7,648.4 1430.0,649.5 1430.4,651.3 1430.8,653.2 1431.2,655.9 1431.7,657.2 1432.1,659.4 1432.4,661.5 1432.8,662.0 1433.2,662.6 1433.7,665.6 1434.1,666.5 1434.5,666.5 1435.0,668.4 1435.4,669.7 1435.9,671.8 1436.3,673.3 1436.7,675.4 1437.2,677.1 1437.6,678.3 1438.0,680.7 1438.4,682.2 1438.8,683.6 1439.2,686.4 1439.6,686.4 1440.1,689.4 1440.5,691.5 1440.9,691.9 1441.3,694.3 1441.7,697.6 1442.1,697.2 1442.4,698.1 1442.8,698.7 1443.2,701.7 1443.5,703.4 1444.6,705.1 1445.5,707.8 1446.3,707.4 1447.4,708.4 1448.0,707.0 1448.5,705.2 1449.1,704.8 1449.8,702.4 1450.4,701.6 1451.1,700.2 1451.8,698.2 1452.6,695.4 1453.3,695.4 1453.9,693.1 1454.5,690.5 1455.1,691.3 1455.8,689.5 1456.4,686.4 1457.1,686.0 1457.8,685.0 1458.4,683.3 1459.1,681.4 1459.8,679.4 1460.4,677.4 1461.1,676.2 1461.7,676.4 1462.4,674.6 1463.0,672.3 1463.7,670.6 1464.3,669.8 1465.0,669.2 1465.6,666.5 1466.3,664.7 1466.9,664.5 1467.6,662.5 1468.2,659.6 1468.9,657.9 1469.5,657.6 1470.1,656.1 1470.7,656.4 1471.3,653.9 1471.9,650.9 1472.5,650.0 1473.2,649.4 1473.8,647.4 1474.4,646.4 1475.0,645.0 1475.6,643.1 1476.2,640.9 1476.8,638.8 1477.4,639.0 1478.0,637.2 1478.6,635.0 1479.3,632.7 1479.9,632.0 1480.5,630.6 1481.1,628.2 1481.7,626.5 1482.3,625.4 1482.9,624.4 1483.5,623.4 1484.1,620.9 1484.6,618.6 1485.4,618.3 1486.2,616.1 1486.9,615.3 1487.5,613.8 1488.2,611.0 1488.9,611.0 1489.7,608.1 1490.5,607.4 1491.3,606.2 1492.0,605.5 1492.8,602.3 1493.6,604.1 1494.5,601.2 1495.3,601.0 1496.3,597.4 1497.3,598.4 1498.3,596.3 1499.5,596.0 1500.7,592.9 1502.1,594.2 1503.4,591.8 1504.9,591.8 1506.2,591.1 1507.6,589.8 1508.8,588.7 1510.0,588.9 1511.7,587.0 1513.2,587.9 1514.6,586.2 1516.0,587.0 1517.8,588.5 1518.7,588.5 1519.8,590.1 1520.8,591.3 1522.0,592.0 1523.1,592.9 1524.3,595.9 1525.4,597.7 1526.6,596.2 1527.6,596.2 1528.7,600.0 1529.6,601.1 1530.3,603.2 1531.0,604.5 1531.7,606.9 1532.3,607.4 1532.9,610.2 1533.5,610.4 1534.0,613.4 1534.6,613.8 1535.1,614.1 1535.7,616.7 1536.2,619.8 1536.8,619.6 1537.4,622.1 1538.1,623.7 1538.7,624.0 1539.4,626.1 1540.1,626.8 1540.8,629.8 1541.5,631.4 1542.2,633.5 1542.9,633.0 1543.5,635.4 1544.1,636.4 1544.7,637.8 1545.2,638.9 1545.8,640.1 1546.3,644.3 1546.7,643.8 1547.1,644.6 1547.5,646.9 1547.9,650.6 1548.3,649.4 1548.7,651.4 1549.2,652.1 1549.7,653.6 1550.1,655.0 1550.6,657.0 1551.1,659.2 1551.6,662.2 1552.1,661.9 1552.7,662.3 1553.2,665.2 1553.8,667.8 1554.4,668.8 1555.0,670.9 1555.5,672.2 1556.0,673.3 1556.5,674.1 1557.1,676.1 1557.6,676.9 1558.1,678.5 1558.7,680.9 1559.3,683.5 1559.9,684.5 1560.5,684.7 1561.1,686.6 1561.7,688.0 1562.3,688.5 1562.9,689.8 1564.0,693.1 1565.2,693.8 1566.4,695.1 1567.6,693.8 1568.9,695.8 1570.1,697.4 1571.4,698.1 1572.6,698.8 1574.0,698.9 1575.3,700.9 1576.6,701.7 1577.9,699.6 1579.3,702.2 1580.8,704.0 1582.4,703.1 1583.8,703.7 1585.2,704.0 1586.7,706.1 1588.3,707.1 1589.9,708.1 1591.5,709.2 1593.1,709.9 1594.6,709.4 1596.1,710.0 1597.9,709.5 1599.6,710.4 1601.3,710.3 1602.9,710.0 1604.6,711.6 1606.2,710.1 1607.9,712.4 1609.2,711.0 1610.6,713.6 1612.0,713.9 1613.3,715.0 1614.7,715.0 1616.0,715.1 1617.3,717.3 1618.5,718.4 1619.6,720.6 1620.6,720.0 1621.5,721.1 1622.3,723.0 1623.1,724.6 1623.9,725.3 1624.6,728.8 1625.5,729.3 1626.4,729.4 1627.4,731.1 1628.4,731.0 1629.5,734.0 1630.6,734.3 1631.8,736.8 1633.1,738.2 1634.3,738.4 1635.5,739.6 1636.8,741.2 1638.0,740.7 1639.2,743.2 1640.7,741.5 1642.2,745.5 1643.7,742.0 1645.2,742.7 1646.7,743.5 1648.1,743.3 1649.5,745.3 1650.9,745.6 1652.0,746.8 1653.0,746.5 1654.1,747.5 1655.1,749.5 1656.2,750.2 1657.2,752.4 1658.1,751.8 1659.0,755.0 1659.9,755.9 1660.7,756.2 1661.3,759.7 1661.9,760.7 1662.4,760.9 1663.0,762.9 1663.4,765.1 1663.9,763.9 1664.3,768.7 1664.8,769.1 1665.2,771.7 1665.7,772.7 1666.1,772.9 1666.6,774.9 1668.0,777.1 1669.3,778.8 1670.8,778.6 1672.5,778.2 1673.7,778.6 1675.0,777.5 1676.4,774.9 1677.8,774.9 1679.3,773.8 1680.8,772.1 1682.2,772.2 1683.4,772.3 1684.7,772.3 1686.0,773.5 1687.3,776.1 1688.6,776.4 1689.8,778.3 1691.0,779.8 1692.0,780.5 1692.5,781.0 1692.9,782.6 1693.3,784.8 1693.6,788.1 1694.0,787.8 1694.3,787.9 1694.6,790.0 1694.9,791.7 1695.2,794.4 1695.5,797.0 1695.9,799.3 1696.3,801.1 1696.8,801.6 1697.3,802.3 1697.9,804.9 1699.1,805.1 1700.6,805.3 1702.2,807.2 1703.9,805.0 1705.6,804.3 1707.3,803.7 1708.9,803.9 1710.4,803.5 1711.6,805.0 1712.4,806.1 1713.0,807.9 1713.6,808.1 1714.1,808.2 1714.5,810.8 1714.9,812.8 1715.3,814.6 1715.7,817.6 1716.1,818.1 1716.5,821.7 1717.0,820.9 1717.5,824.3 1718.9,824.9 1720.5,825.5 1722.1,826.2 1723.7,827.8 1725.3,826.9 1726.4,828.0 1727.6,831.3 1728.7,832.0 1729.9,832.5 1731.0,834.0 1732.1,834.5 1733.1,835.9 1734.6,835.4 1735.9,834.0 1737.3,832.7 1739.0,830.7 1739.8,831.2 1740.7,833.7 1741.7,833.3 1742.7,834.1 1743.8,836.3 1744.8,838.3 1745.9,840.2 1746.9,841.1 1747.9,841.6 1748.8,842.3 1749.7,845.1 1750.5,845.5 1751.3,846.2 1752.1,848.0 1752.8,849.5 1753.6,850.2 1754.3,851.6 1755.1,853.9 1755.8,855.4 1756.6,856.6 1757.1,858.5 1757.7,860.8 1758.2,860.6 1758.7,862.2 1759.3,863.6 1759.8,865.5 1760.4,867.8 1760.9,870.1 1761.4,872.1 1761.9,873.0 1762.5,876.3 1763.0,875.2 1763.5,878.3 1763.9,879.9 1764.4,879.1 1765.2,883.2 1766.0,883.8 1766.8,886.7 1767.5,887.8 1768.2,888.8 1768.9,890.6 1769.6,891.0 1770.3,890.7 1771.0,890.4 1771.8,891.0 1772.5,890.0 1773.3,888.5 1774.0,887.3 1774.7,884.0 1775.5,882.8 1776.2,881.1 1776.6,878.4 1776.9,879.1 1777.2,876.1 1777.6,875.3 1777.9,873.8 1778.2,870.8 1778.5,869.5 1778.9,868.8 1779.2,867.6 1779.5,864.7 1779.9,863.1 1780.3,860.6 1780.7,859.8 1781.1,858.1 1781.5,856.9 1782.0,855.9 1782.5,853.0 1783.1,851.0 1783.6,849.6 1784.2,848.9 1784.8,846.2 1785.4,843.9 1786.0,842.1 1786.6,841.6 1787.3,841.2 1788.0,840.3 1788.7,837.4 1789.4,838.1 1790.2,834.5 1791.0,833.8 1791.8,833.8 1793.3,830.2 1794.9,832.8 1796.6,832.2 1798.4,832.5 1800.2,832.5 1802.0,833.1 1803.7,834.1 1805.3,833.1 1806.8,833.5 1808.2,832.7 1809.5,831.3 1810.7,830.4 1811.9,831.6 1813.0,829.8 1814.1,827.0 1815.1,827.4 1816.1,826.1 1817.1,823.2 1817.7,823.1 1818.3,820.6 1818.8,818.9 1819.3,819.1 1819.7,817.7 1820.2,815.5 1820.7,812.5 1821.1,813.6 1821.6,809.8 1822.0,807.5 1822.5,806.3 1823.0,805.9 1823.5,803.8 1824.0,801.6 1824.7,801.4 1825.4,800.2 1826.2,798.5 1826.9,798.1 1827.7,794.4 1828.4,794.2 1829.2,791.1 1830.0,792.4 1830.8,790.5 1831.7,788.6 1832.5,787.6 1833.5,785.3 1834.4,785.0 1835.5,783.3 1836.5,781.7 1837.5,781.8 1838.6,780.0 1839.7,777.9 1840.7,777.7 1841.8,777.2 1842.8,776.2 1844.3,773.8 1845.8,771.6 1847.3,773.0 1848.8,770.1 1850.3,768.8 1851.7,769.8 1853.1,770.5 1854.2,769.3 1855.3,771.9 1856.3,774.0 1857.3,774.9 1858.4,774.3 1859.4,777.6 1860.5,779.0 1861.6,780.1 1862.8,781.9 1864.2,783.0 1865.6,783.6 1867.0,785.9 1868.3,784.9 1869.6,786.2 1870.8,788.1 1871.9,787.1 1873.2,788.4 1874.3,784.5 1875.1,783.3 1876.0,781.5 1877.1,779.7 1877.8,782.1 1878.4,783.4 1879.1,785.8 1879.7,785.7 1880.4,787.4 1881.2,791.2 1882.0,791.6 1882.9,793.6 1883.9,794.2 1885.1,794.3 1886.5,795.3 1887.9,794.8 1889.5,796.1 1891.0,794.6 1892.7,794.1 1894.3,794.3 1895.9,793.6 1897.4,794.7 1898.9,794.1 1900.5,795.8 1902.2,797.4 1903.8,797.7 1905.3,798.1 1906.9,799.1 1908.3,798.4 1909.6,800.2 1911.4,799.9 1913.0,799.5 1914.4,795.8 1915.8,796.4 1917.0,795.5 1918.2,795.9 1919.1,795.6 1919.8,798.4 1920.5,798.6 1921.1,801.7 1921.7,803.3 1922.4,804.1 1923.3,803.7 1924.3,806.7 1925.5,807.7 1926.7,808.0 1928.0,807.8 1929.3,811.2 1930.6,810.8 1931.8,813.4 1932.7,814.7 1933.7,816.3 1934.6,816.5 1935.5,819.8 1936.5,818.6 1937.4,820.4 1938.4,822.8 1939.4,822.2 1940.4,826.6 1941.5,827.3 1942.6,827.8 1943.7,829.5 1944.9,830.1 1946.0,830.1 1947.2,832.6 1948.4,832.7 1949.5,833.8 1950.7,832.5 1951.7,835.9 1952.6,838.3 1953.6,840.1 1954.7,840.6 1955.7,842.5 1956.7,840.5 1957.6,844.8 1958.6,846.2 1959.4,848.5 1960.3,845.4 1961.0,849.6 1961.8,851.2 1962.5,851.5 1963.0,856.1 1963.4,852.7 1963.9,855.3 1964.5,857.9 1965.2,859.8 1966.1,859.2 1967.2,863.7 1968.4,863.5 1969.8,861.8 1971.3,864.6 1972.9,863.4 1974.4,864.9 1975.8,865.9 1977.0,866.4 1978.1,867.5 1978.8,871.3 1979.3,871.3 1979.8,873.4 1980.2,871.5 1980.5,875.1 1980.9,878.9 1981.2,881.1 1981.5,879.9 1981.8,881.2 1982.2,883.6 1982.7,887.3 1983.2,887.0 1984.4,889.1 1985.7,889.0 1987.2,890.9 1988.7,889.8 1990.2,893.1 1991.8,892.2 1992.8,894.4 1993.8,893.6 1994.9,894.2 1996.0,896.8 1997.1,895.8 1998.2,896.9 1999.2,897.9 2000.2,899.7 2001.2,902.6 2002.1,903.7 2002.7,906.5 2003.3,906.3 2003.8,908.2 2004.3,908.7 2004.8,912.5 2005.3,912.5 2005.7,914.7 2006.2,915.2 2006.6,915.2 2007.1,916.0 2007.5,921.7 2008.0,921.4 2008.4,924.1 2008.9,925.2 2009.6,927.7 2010.3,925.2 2011.0,927.9 2011.7,927.6 2012.5,930.1 2013.2,933.1 2013.9,935.7 2014.5,933.5 2015.2,933.6 2015.8,940.8 2016.3,938.0 2016.8,942.4 2017.3,941.7 2017.7,944.9 2018.1,944.0 2018.6,946.5 2019.0,948.9 2019.4,950.6 2019.9,953.1 2020.4,954.8 2020.9,956.2 2021.6,959.3 2022.3,958.4 2023.0,961.0 2023.8,959.5 2024.5,964.8 2025.3,963.3 2026.1,965.9 2026.9,965.7 2027.7,968.0 2028.6,967.8 2029.6,969.0 2030.5,972.1 2031.5,972.8 2032.5,975.3 2033.4,976.0 2034.4,978.8 2035.4,978.0 2036.5,977.5 2037.7,974.8 2038.8,975.7 2039.9,973.2 2041.0,969.2 2042.1,969.4 2043.2,969.2 2044.7,970.2 2046.1,967.2 2047.5,967.3 2048.8,964.6 2050.0,965.2 2050.8,961.4 2051.6,963.7 2052.3,956.4 2053.0,956.0 2053.7,955.7 2054.4,951.8 2055.1,955.8 2055.4,956.1 2055.7,954.4 2056.0,956.4 2056.3,961.3 2056.5,960.4 2056.8,963.4 2057.1,965.4 2057.4,964.5 2057.7,969.4 2058.0,970.7 2058.3,973.4 2058.6,975.5 2059.0,974.7 2059.4,979.3 2059.8,979.8 2060.3,979.8 2061.2,978.9 2062.3,979.3 2063.5,978.3 2064.8,975.0 2066.0,974.7 2067.3,971.9 2068.5,969.2 2069.6,967.8 2070.5,968.7 2071.1,968.9 2071.6,973.1 2072.0,973.0 2072.4,975.1 2072.8,972.4 2073.1,978.1 2073.5,979.7 2073.8,984.1 2074.1,981.4 2074.5,986.6 2074.9,985.4 2075.3,989.9 2075.7,990.3 2077.2,990.4 2078.9,987.2 2080.6,990.2 2082.5,987.2 2083.5,986.9 2084.5,986.1 2085.5,991.1 2086.6,991.2 2087.7,992.1 2088.8,992.5 2089.9,994.7 2091.1,996.2 2092.0,996.6 2092.9,997.9 2093.8,997.4 2094.7,1000.6 2095.7,1002.2 2096.6,1004.7 2097.6,1005.2 2098.6,1006.1 2099.5,1008.4 2100.5,1009.8 2101.4,1007.7 2102.9,1011.4 2104.5,1010.5 2106.1,1011.6 2107.7,1013.1 2109.2,1012.1 2110.5,1011.5 2111.6,1011.9 2112.2,1014.2 2112.6,1015.9 2112.9,1013.7 2113.2,1018.4 2113.4,1021.1 2113.5,1025.0 2113.7,1025.1 2114.0,1025.5 2114.2,1027.4 2114.6,1029.1 2115.1,1032.0 2115.9,1031.3 2117.0,1033.3 2118.1,1036.5 2119.2,1040.2 2120.4,1040.2 2121.6,1040.2 2122.7,1040.8 2123.6,1040.5 2124.1,1039.2 2124.7,1040.9 2125.1,1038.4 2125.6,1035.9 2126.0,1034.0 2126.4,1027.9 2126.8,1026.1 2127.2,1029.4 2127.6,1026.5 2128.0,1021.0 2128.4,1019.4 2128.8,1020.3 2129.3,1022.5 2129.9,1021.5 2130.5,1023.6 2131.1,1026.4 2131.7,1027.9 2132.2,1030.4 2132.7,1031.6 2133.2,1034.4 2133.6,1037.9 2133.9,1039.5" fill="none" stroke="#0000ff" stroke-width="8.0" stroke-linejoin="round" stroke-linecap="butt"/>
<polyline points="187.0,678.2 187.9,679.4 189.1,678.1 190.6,676.0 192.2,675.8 194.0,675.9 195.8,675.7 197.6,673.9 199.3,673.8 200.9,672.7 202.3,674.4 203.5,672.9 205.6,674.3 206.9,674.6 207.9,675.8 209.4,676.4 210.5,676.9 211.6,677.0 212.8,675.3 214.1,674.4 215.5,674.2 217.2,672.5 219.1,672.5 220.3,672.0 221.6,670.9 222.9,671.4 224.4,670.3 225.9,670.0 227.5,668.9 229.1,668.6 230.7,669.3 232.3,668.7 234.0,667.8 235.6,667.2 237.2,667.9 238.7,666.4 240.4,664.9 242.1,666.0 243.8,665.7 245.6,665.0 247.4,664.9 249.1,666.3 250.8,664.3 252.5,663.5 254.1,663.7 255.6,663.8 257.0,662.7 258.3,664.1 260.2,663.6 261.8,663.0 263.2,662.7 264.4,660.5 265.6,658.6 266.8,660.2 268.1,660.1 269.7,659.0 271.3,657.2 273.0,658.0 274.6,658.2 276.2,659.9 277.8,660.7 279.0,661.1 280.3,663.4 281.6,662.0 282.9,663.2 284.2,665.8 285.4,665.2 286.6,667.0 287.6,670.1 288.4,670.0 289.1,672.2 289.7,674.3 290.3,675.9 290.9,676.4 291.5,679.4 292.0,681.0 292.5,681.2 293.0,681.9 293.5,684.1 294.0,685.4 294.4,686.9 294.9,689.9 295.3,691.2 295.7,692.4 296.1,694.3 296.4,696.0 296.8,697.2 297.2,697.2 297.6,700.1 297.9,702.0 298.2,702.7 298.5,705.0 298.8,705.7 299.1,705.5 299.4,709.8 299.7,710.5 300.1,712.1 300.4,713.5 300.7,716.0 301.1,716.2 301.5,718.6 301.8,720.5 302.0,722.4 302.3,724.3 302.6,724.4 302.9,727.1 303.2,728.0 303.5,729.2 303.8,732.7 304.2,732.0 304.5,734.7 304.8,735.5 305.1,739.0 305.5,739.1 305.8,741.6 306.1,743.0 306.4,743.1 306.8,745.9 307.1,747.3 307.4,749.9 307.7,750.4 308.0,752.6 308.3,754.0 308.6,754.8 309.0,755.6 309.3,758.8 309.6,760.2 309.9,760.9 310.2,763.9 310.5,764.2 310.8,766.8 311.1,766.7 311.4,767.8 311.8,771.1 312.1,771.4 312.4,774.6 312.7,776.3 313.0,777.2 313.3,776.7 313.7,780.5 314.1,783.1 314.5,784.4 314.9,784.7 315.2,786.5 315.6,788.8 316.0,789.1 316.4,792.1 316.8,792.8 317.2,795.7 317.5,795.4 317.9,798.8 318.3,797.9 318.7,800.1 319.1,802.2 319.6,804.1 320.1,805.4 320.5,807.2 321.0,808.5 321.5,810.1 321.9,811.5 322.4,812.6 322.9,815.4 323.4,815.4 323.9,816.6 324.4,816.8 325.0,819.0 325.6,821.4 326.2,823.3 326.8,823.6 327.4,824.9 328.0,827.9 328.6,827.7 329.3,829.0 330.1,831.2 330.9,833.4 331.8,835.6 332.8,834.3 333.7,836.6 334.6,837.0 335.6,838.8 336.7,839.2 337.8,841.6 339.0,841.2 340.2,843.4 341.4,843.6 342.6,845.4 343.8,847.2 345.0,847.8 346.2,849.7 347.4,850.4 348.5,850.9 349.7,851.8 350.9,851.9 352.1,854.5 353.3,855.9 354.5,856.3 355.7,856.4 356.9,859.1 358.1,859.4 359.3,861.1 360.5,862.3 361.7,863.9 362.9,863.6 364.1,863.9 365.4,865.5 366.7,866.3 368.0,867.3 369.3,868.8 370.5,869.8 371.8,870.5 373.1,871.1 374.4,872.2 375.7,872.3 377.1,873.2 378.4,874.8 379.8,875.3 380.9,877.2 382.1,878.7 383.2,878.4 384.4,880.2 385.6,881.5 386.8,881.6 388.0,884.8 389.2,884.4 390.4,885.7 391.6,887.0 392.8,887.2 394.0,886.9 395.1,888.9 396.3,890.2 397.4,892.2 398.5,893.2 399.6,895.4 400.7,893.2 401.7,896.3 402.8,898.2 403.8,899.4 404.9,900.2 405.9,900.4 406.9,902.9 407.9,902.6 409.0,904.4 410.0,905.0 411.0,907.4 412.1,909.3 413.1,908.9 414.2,910.7 415.3,911.4 416.4,912.9 417.4,916.4 418.5,915.6 419.6,916.9 420.7,917.9 421.7,918.3 422.8,919.4 424.0,921.4 425.1,920.8 426.3,923.2 427.5,923.6 428.7,924.8 429.8,925.5 431.0,927.1 432.1,928.5 433.3,929.7 434.5,929.6 435.8,929.6 437.0,931.9 438.2,932.9 439.5,935.7 440.8,934.0 442.0,934.2 443.3,936.8 444.6,937.8 445.8,939.7 447.1,939.2 448.3,941.3 449.7,941.6 451.0,943.2 452.4,944.2 453.7,944.9 455.0,944.7 456.3,945.8 457.6,949.0 459.0,948.1 460.3,949.3 461.7,948.5 463.2,951.8 464.7,952.7 466.3,950.9 467.9,953.8 469.3,951.9 470.8,952.6 472.2,953.5 473.8,953.7 475.3,953.2 476.9,954.4 478.5,955.2 480.2,955.9 481.8,955.0 483.5,956.3 485.2,956.2 486.9,956.9 488.6,956.2 490.3,957.4 491.9,956.0 493.6,955.1 495.3,957.4 496.8,957.7 498.4,956.5 499.9,958.6 501.5,957.5 503.1,959.3 504.7,959.2 506.4,957.9 508.0,960.1 509.6,959.6 511.2,959.8 512.9,959.8 514.4,960.2 516.0,960.3 517.5,961.8 519.0,959.6 520.5,961.5 521.9,960.5 523.3,963.3 524.6,961.7 526.4,964.0 528.1,964.2 529.7,964.2 531.2,966.0 532.6,965.6 534.0,965.2 535.3,966.9 536.7,966.7 538.1,967.7 539.5,968.7 541.0,968.5 542.5,971.4 544.2,969.7 545.6,969.3 547.1,971.0 548.6,970.7 550.2,972.0 551.8,970.5 553.4,972.0 555.0,971.8 556.7,973.4 558.3,973.2 560.0,971.6 561.6,972.2 563.2,972.6 564.9,972.9 566.5,972.8 568.1,971.9 569.6,973.3 571.2,973.5 572.8,972.1 574.3,971.9 575.8,972.0 577.4,971.3 578.9,971.9 580.4,972.0 581.9,971.6 583.4,970.5 584.9,971.5 586.5,969.2 588.1,970.1 589.7,969.1 591.4,970.2 593.1,969.9 594.5,967.9 596.0,969.3 597.5,968.2 599.1,967.7 600.7,967.9 602.3,965.5 603.9,967.8 605.6,966.5 607.2,966.6 608.9,965.3 610.5,965.5 612.1,964.4 613.7,965.5 615.3,965.0 616.9,963.8 618.3,961.8 619.8,961.5 621.2,963.1 622.5,961.5 624.2,961.6 625.8,960.8 627.4,959.7 628.8,962.0 630.2,958.9 631.6,957.6 632.9,956.1 634.2,955.7 635.5,956.2 636.8,956.0 638.1,955.2 639.4,953.4 640.7,953.9 642.1,952.2 643.5,951.7 644.9,950.0 646.2,948.8 647.6,949.3 649.0,948.1 650.3,946.7 651.7,947.6 653.1,947.2 654.5,945.4 655.9,944.2 657.3,944.9 658.7,941.4 660.1,941.8 661.6,940.9 662.9,938.5 664.3,938.9 665.6,937.0 667.1,938.7 668.5,936.7 669.9,936.2 671.4,933.8 672.8,934.1 674.2,931.5 675.6,931.7 677.0,930.0 678.4,930.9 679.7,929.6 681.0,927.5 682.3,925.4 683.5,926.0 685.0,925.9 686.5,924.9 687.8,923.5 689.2,922.8 690.4,922.1 691.7,922.2 692.9,920.3 694.1,920.0 695.3,918.7 696.6,915.6 697.8,915.8 699.1,914.6 700.4,913.6 701.7,914.0 703.1,913.2 704.4,912.6 705.7,911.0 707.1,910.4 708.4,909.9 709.7,909.0 711.0,909.0 712.3,908.5 713.6,908.1 714.8,906.1 716.2,906.0 717.6,901.6 718.9,902.8 720.1,903.1 721.4,900.6 722.7,899.3 724.0,899.4 725.4,898.5 726.9,896.5 728.5,896.9 729.8,895.8 731.2,896.8 732.6,894.8 734.1,893.9 735.6,893.3 737.2,894.7 738.7,893.8 740.3,893.8 741.9,893.8 743.5,892.7 745.0,891.2 746.6,890.6 748.1,893.1 749.7,892.4 751.3,892.4 752.8,890.5 754.3,890.8 755.8,890.5 757.3,890.0 758.8,890.7 760.4,890.6 762.1,891.3 763.8,890.1 765.7,889.7 767.6,891.7 769.0,889.4 770.5,888.5 772.0,890.2 773.6,891.0 775.3,889.8 777.0,890.0 778.7,890.0 780.5,890.2 782.2,889.1 784.0,889.6 785.7,889.6 787.4,889.8 789.0,890.8 790.6,888.6 792.1,889.8 793.5,890.3 794.8,887.8 796.0,888.8 798.3,889.9 800.2,888.5 801.7,886.2 803.0,886.8 804.3,888.6 805.5,887.9 807.0,886.2 808.7,884.6 810.0,884.1 811.3,885.5 812.7,885.2 814.1,881.6 815.6,882.1 817.1,881.0 818.6,881.7 820.1,880.3 821.6,880.3 823.2,879.6 824.7,878.0 826.3,876.9 827.7,875.9 829.2,875.5 830.7,876.1 832.2,876.4 833.7,874.0 835.2,873.4 836.7,873.5 838.3,872.4 839.8,871.9 841.3,873.0 842.9,872.1 844.4,869.7 845.9,869.9 847.4,869.3 849.0,867.7 850.5,867.2 852.1,866.0 853.6,865.6 855.2,866.0 856.7,864.3 858.3,865.5 859.8,864.1 861.3,863.4 862.7,861.7 864.1,861.8 865.5,861.2 867.1,859.9 868.6,859.8 870.0,859.7 871.4,856.7 872.7,856.2 874.1,856.0 875.4,856.8 876.8,854.7 878.2,853.8 879.6,853.8 881.1,851.7 882.5,851.6 883.9,849.5 885.4,850.0 886.9,848.1 888.4,849.0 889.9,848.9 891.4,848.0 892.9,847.1 894.4,846.1 895.9,845.2 897.3,844.0 898.7,844.5 900.3,843.4 901.9,842.3 903.4,841.7 904.9,842.0 906.4,840.8 907.9,842.2 909.5,840.4 911.0,841.4 912.7,840.6 914.4,839.3 915.8,840.9 917.2,839.8 918.7,838.9 920.1,838.8 921.7,836.6 923.2,837.3 924.7,836.5 926.3,836.7 927.8,837.5 929.4,835.6 931.0,834.7 932.5,835.0 934.0,835.2 935.6,835.0 937.3,833.2 938.9,832.3 940.5,833.6 942.1,833.3 943.8,831.2 945.4,832.0 947.0,832.1 948.6,832.2 950.2,831.2 951.9,830.5 953.5,829.9 955.0,830.7 956.5,829.6 958.0,829.5 959.5,829.4 961.0,827.3 962.5,827.1 964.0,824.6 965.6,826.7 967.1,826.1 968.6,826.2 970.1,824.7 971.6,822.7 973.1,822.6 974.6,821.2 976.1,821.3 977.6,820.7 979.1,819.6 980.6,819.5 982.2,819.3 983.7,817.9 985.2,817.1 986.7,816.6 988.2,817.3 989.7,815.6 991.2,813.4 992.7,815.4 994.2,814.4 995.8,813.8 997.3,813.0 998.9,811.9 1000.5,811.8 1002.0,811.5 1003.6,811.1 1005.1,811.3 1006.6,810.0 1008.1,812.2 1009.5,810.6 1010.9,808.3 1012.2,809.5 1013.8,808.6 1015.4,807.5 1016.9,806.9 1018.4,806.2 1019.8,804.3 1021.2,803.7 1022.5,803.2 1023.7,801.5 1024.9,802.0 1026.0,802.0 1027.6,803.3 1029.0,803.1 1030.3,804.3 1031.4,805.8 1032.6,806.7 1033.8,806.7 1035.0,805.2 1036.0,805.7 1037.1,804.2 1038.2,803.8 1039.7,802.4 1041.6,802.3 1042.7,799.9 1044.0,799.6 1045.3,798.3 1046.8,801.1 1048.3,798.7 1049.9,798.0 1051.5,796.6 1053.1,798.1 1054.8,796.9 1056.4,797.8 1058.0,795.7 1059.6,795.7 1061.1,794.9 1062.5,794.5 1064.0,793.4 1065.5,793.9 1067.0,794.1 1068.5,792.7 1070.0,792.4 1071.5,792.1 1073.0,792.1 1074.6,791.0 1076.1,791.2 1077.6,788.9 1079.1,789.7 1080.8,790.3 1082.5,790.2 1084.4,788.4 1086.2,789.0 1088.1,788.4 1089.9,787.6 1091.6,786.5 1093.3,786.9 1094.9,788.5 1096.3,784.0 1097.6,788.9 1098.7,786.5 1101.0,786.6 1101.6,790.0 1102.6,790.3 1103.5,789.6 1104.5,790.9 1105.5,787.4 1106.6,786.6 1107.8,785.1 1109.1,783.6 1110.5,781.4 1111.8,782.9 1113.2,778.7 1114.8,775.6 1116.4,780.1 1117.9,778.7 1119.5,780.2 1120.9,777.5 1122.2,776.2 1123.7,777.4 1125.1,777.6 1126.3,780.8 1127.5,781.8 1128.7,783.2 1130.0,781.8 1131.4,780.9 1132.8,780.2 1134.3,776.8 1135.6,776.7 1136.8,776.9 1137.8,777.1 1138.7,777.3 1139.0,783.2 1139.3,782.9 1139.8,781.9 1140.0,783.6 1140.3,781.9 1140.5,782.1 1140.8,778.3 1141.1,776.9 1141.4,773.2 1141.7,772.3 1142.0,772.6 1142.3,770.0 1142.6,768.8 1143.0,762.8 1143.3,765.8 1143.7,765.0 1144.5,761.8 1145.3,762.5 1146.2,768.1 1147.1,766.8 1148.0,770.9 1148.8,768.3 1149.6,774.3 1150.5,774.9 1151.3,776.4 1152.0,775.3 1152.8,780.5 1153.5,777.7 1154.0,778.9 1154.5,777.7 1155.0,775.6 1155.5,772.7 1156.0,772.7 1156.6,771.0 1157.4,771.2 1158.3,765.7 1159.2,769.2 1160.3,770.7 1161.4,775.0 1162.6,776.1 1163.8,775.7 1165.2,777.4 1166.5,777.2 1168.0,777.6 1169.6,776.9 1171.2,780.2 1172.8,778.8 1174.4,782.0 1175.8,782.8 1177.0,782.7 1178.3,779.9 1179.3,776.7 1180.1,776.5 1180.9,775.2 1181.8,773.8 1182.9,777.0 1184.4,775.2 1186.1,771.9 1187.9,769.3 1189.6,769.1 1191.3,768.9 1192.6,770.7 1193.6,772.0 1194.2,773.5 1194.7,773.4 1195.4,779.8 1196.6,775.5 1197.6,778.1 1198.8,776.7 1200.1,774.0 1201.6,771.5 1203.1,771.9 1204.5,771.2 1205.9,771.1 1207.2,769.8 1208.3,767.5 1209.8,770.9 1211.0,774.9 1212.0,773.6 1213.0,774.8 1214.2,771.9 1215.1,773.4 1216.1,773.5 1217.2,771.8 1218.2,771.2 1219.3,768.9 1220.3,766.8 1221.2,767.0 1222.0,764.6 1223.0,764.9 1223.7,770.7 1224.4,770.0 1225.1,773.3 1225.9,770.9 1226.5,770.5 1227.1,770.6 1227.7,769.1 1228.4,767.4 1229.1,764.3 1229.8,762.0 1230.5,758.8 1231.1,758.3 1231.8,760.4 1232.4,757.4 1232.9,760.9 1233.5,764.1 1234.0,762.5 1234.6,765.8 1235.1,767.9 1235.7,769.0 1236.3,771.7 1236.9,772.7 1237.6,772.4 1238.4,775.0 1239.2,772.8 1240.0,771.3 1240.9,768.7 1241.7,767.5 1242.6,763.7 1243.6,764.2 1244.5,762.5 1245.5,760.3 1246.7,761.3 1248.0,763.3 1249.3,764.4 1250.7,765.6 1252.0,765.5 1253.2,768.7 1254.3,764.8 1255.3,770.4 1256.6,765.8 1257.2,768.6 1257.9,766.4 1259.2,765.6 1260.3,766.2 1261.6,764.2 1263.0,767.3 1264.5,769.9 1266.0,769.8 1267.6,772.2 1269.0,775.2 1270.3,771.1 1271.6,770.4 1272.8,769.6 1274.1,769.0 1275.5,767.8 1277.0,766.2 1278.7,765.2 1280.0,766.4 1281.5,764.8 1283.1,764.9 1284.7,765.1 1286.4,765.9 1288.1,765.1 1289.8,764.5 1291.4,765.7 1293.0,766.6 1294.4,767.2 1296.1,768.5 1297.7,767.7 1299.2,767.1 1300.7,766.7 1302.2,770.2 1303.5,768.6 1304.8,770.8 1306.1,769.7 1307.9,770.5 1309.5,771.9 1311.0,770.9 1312.5,771.2 1314.0,773.1 1315.0,773.4 1316.0,775.0 1317.0,776.1 1318.0,775.3 1319.0,778.3 1320.0,780.3 1320.9,781.7 1321.8,782.9 1322.6,785.2 1323.4,786.7 1324.1,786.7 1324.8,788.8 1325.4,790.6 1326.1,790.5 1326.9,793.0 1327.7,795.5 1328.6,797.5 1329.4,798.5 1330.3,799.3 1331.2,799.3 1332.2,801.3 1333.2,800.6 1334.3,802.9 1335.5,804.7 1336.3,805.9 1337.1,806.5 1338.0,807.0 1338.9,810.9 1339.9,810.8 1340.9,811.9 1341.8,812.4 1342.8,813.9 1343.8,816.1 1344.7,818.5 1345.6,818.2 1346.4,820.3 1347.2,822.7 1348.0,824.1 1348.8,825.0 1349.5,826.7 1350.2,828.2 1350.9,830.4 1351.5,831.2 1352.1,832.6 1352.8,835.7 1353.4,834.6 1353.9,837.3 1354.5,837.7 1355.1,839.3 1355.7,841.9 1356.2,843.0 1356.7,844.0 1357.2,845.1 1357.7,845.9 1358.1,848.1 1358.6,849.5 1359.0,852.4 1359.5,852.0 1360.0,853.7 1360.4,856.3 1360.9,856.2 1361.3,859.3 1361.7,861.3 1362.1,861.6 1362.5,863.5 1362.9,866.4 1363.3,866.7 1363.6,867.8 1364.0,868.4 1364.4,871.4 1364.8,871.7 1365.2,873.7 1365.6,875.0 1366.0,878.0 1366.4,878.6 1366.8,881.6 1367.1,883.8 1367.4,882.9 1367.7,885.4 1367.9,886.3 1368.2,888.6 1368.5,889.9 1368.8,890.5 1369.1,893.2 1369.3,893.7 1369.6,897.2 1369.9,898.0 1370.2,899.2 1370.5,899.9 1370.8,901.5 1371.1,903.8 1371.4,904.7 1371.7,908.7 1372.0,908.1 1372.4,910.4 1372.7,911.5 1373.0,914.1 1373.4,916.0 1373.7,916.6 1374.1,918.1 1374.5,920.4 1374.8,922.2 1375.2,924.8 1375.6,924.6 1376.0,927.0 1376.4,930.3 1376.8,931.3 1377.2,932.6 1377.6,932.6 1378.0,935.2 1378.4,936.3 1378.7,938.6 1379.1,940.7 1379.5,943.4 1379.8,943.4 1380.2,945.2 1380.5,945.6 1381.2,949.6 1381.8,949.9 1382.4,951.6 1383.0,953.9 1383.6,954.8 1384.1,956.6 1384.7,960.3 1385.3,959.9 1385.8,959.6 1386.4,960.8 1387.8,964.5 1389.1,964.7 1390.6,964.8 1392.3,961.8 1392.8,962.4 1393.4,961.8 1394.1,959.9 1394.7,959.4 1395.4,957.3 1396.1,956.6 1396.8,954.4 1397.5,951.9 1398.2,951.1 1398.9,948.8 1399.6,947.7 1400.2,946.0 1400.9,944.8 1401.5,943.2 1402.0,941.7 1402.6,939.1 1403.1,939.6 1403.6,936.3 1404.0,934.9 1404.3,933.5 1404.7,932.4 1405.1,931.0 1405.5,929.5 1406.0,926.7 1406.5,925.4 1407.1,925.6 1407.9,924.8 1408.8,922.4 1409.8,920.7 1411.0,918.8 1412.2,917.9 1413.4,917.1 1414.7,915.8 1416.0,914.0 1417.3,913.0 1418.5,912.9 1419.7,910.8 1420.7,910.1 1421.6,908.7 1423.7,909.9 1425.2,909.6 1426.4,910.3 1427.8,913.2 1428.2,914.8 1428.6,916.0 1429.0,916.7 1429.4,917.2 1429.8,919.0 1430.2,921.5 1430.6,922.5 1431.0,926.1 1431.4,926.2 1431.7,927.4 1432.1,931.1 1432.5,932.7 1432.9,933.3 1433.3,935.4 1433.7,935.4 1434.1,938.4 1434.5,939.8 1434.9,942.5 1435.3,941.5 1435.7,945.3 1436.1,946.6 1436.5,947.5 1436.9,948.9 1437.4,948.2 1437.8,952.1 1438.2,952.2 1438.7,954.7 1439.1,957.1 1439.6,959.1 1440.0,959.6 1440.5,962.0 1441.0,963.7 1441.5,966.4 1442.0,967.0 1442.5,969.8 1443.0,970.9 1443.5,971.2 1444.0,973.7 1444.5,975.8 1445.0,977.7 1445.5,980.2 1446.0,981.4 1446.5,981.3 1447.0,982.5 1447.4,983.6 1448.0,982.7 1448.6,981.2 1449.1,983.5 1449.7,980.7 1450.2,978.3 1450.7,976.7 1451.2,975.3 1451.7,971.8 1452.3,970.8 1452.8,966.4 1453.3,967.1 1453.6,965.5 1453.9,962.6 1454.2,962.6 1454.6,959.9 1454.9,960.5 1455.2,958.0 1455.5,955.9 1455.8,955.5 1456.1,953.2 1456.4,952.0 1456.7,950.5 1457.0,948.1 1457.3,948.2 1457.7,945.2 1458.0,944.6 1458.4,944.4 1458.7,941.2 1459.1,939.3 1459.4,936.8 1459.7,935.7 1460.0,935.1 1460.3,932.3 1460.6,930.9 1460.9,929.2 1461.2,928.3 1461.5,926.0 1461.9,926.8 1462.2,926.2 1462.5,920.7 1462.8,922.7 1463.2,919.4 1463.5,918.1 1463.9,916.4 1464.2,913.8 1464.6,912.9 1465.0,913.0 1465.4,911.1 1465.8,908.1 1466.2,906.3 1466.6,905.9 1467.0,905.1 1467.4,901.8 1467.7,899.5 1468.1,899.9 1468.5,898.1 1468.9,896.5 1469.3,894.9 1469.7,893.8 1470.1,892.0 1470.5,887.5 1471.0,888.7 1471.4,887.1 1471.8,884.3 1472.3,883.0 1472.7,882.5 1473.2,879.7 1473.6,879.4 1474.1,875.1 1474.5,876.2 1474.9,873.0 1475.4,873.5 1475.8,871.0 1476.2,869.7 1476.7,867.2 1477.1,866.6 1477.5,865.1 1477.9,864.1 1478.3,862.4 1478.7,860.9 1479.3,858.3 1479.8,857.9 1480.4,855.9 1480.9,854.5 1481.4,853.2 1481.9,851.1 1482.5,850.0 1483.0,848.3 1483.5,846.9 1484.0,843.3 1484.5,841.5 1485.0,840.3 1485.5,840.0 1486.0,838.1 1486.5,838.2 1487.0,835.4 1487.5,834.3 1488.0,831.2 1488.5,831.6 1489.2,829.0 1489.9,828.5 1490.6,828.3 1491.2,824.5 1491.9,822.6 1492.6,821.4 1493.3,819.3 1494.0,819.8 1494.7,817.1 1495.4,817.0 1496.1,814.5 1496.8,814.3 1497.5,812.4 1498.3,812.0 1499.5,810.5 1500.8,808.9 1502.1,806.9 1503.5,807.2 1504.8,805.5 1506.2,807.2 1507.5,804.5 1508.8,805.4 1510.0,804.4 1511.5,805.0 1512.9,804.0 1514.3,805.9 1515.7,805.9 1517.1,805.5 1518.4,807.8 1519.8,810.1 1520.6,808.9 1521.5,811.4 1522.3,813.0 1523.1,813.0 1524.0,814.6 1524.8,816.9 1525.7,817.7 1526.5,818.7 1527.3,819.3 1528.1,822.2 1528.9,825.9 1529.6,825.7 1530.1,827.7 1530.6,828.1 1531.1,829.6 1531.6,831.3 1532.0,832.8 1532.5,833.5 1533.0,834.0 1533.4,836.2 1533.8,838.6 1534.3,838.4 1534.7,842.0 1535.2,842.1 1535.6,844.4 1536.0,845.7 1536.5,847.0 1536.9,848.8 1537.4,850.8 1537.8,852.4 1538.3,853.8 1538.7,856.3 1539.2,857.2 1539.6,858.6 1540.1,859.9 1540.5,861.2 1541.0,864.1 1541.4,864.4 1541.9,865.5 1542.3,868.5 1542.7,869.9 1543.2,870.8 1543.6,872.8 1544.0,874.9 1544.4,875.6 1544.8,876.4 1545.2,877.8 1545.7,880.5 1546.1,882.4 1546.6,883.0 1547.0,884.9 1547.4,886.4 1547.8,887.4 1548.1,889.2 1548.5,888.9 1548.9,891.8 1549.3,893.6 1549.7,894.3 1550.2,896.5 1550.6,897.9 1551.1,899.0 1551.4,902.0 1551.8,903.3 1552.2,903.8 1552.6,906.9 1553.0,908.0 1553.4,906.5 1553.8,909.5 1554.2,913.4 1554.6,913.1 1555.0,916.9 1555.4,916.7 1555.8,918.6 1556.2,920.9 1556.6,921.7 1557.0,925.0 1557.4,926.3 1557.8,927.7 1558.2,927.5 1558.6,931.3 1558.9,930.5 1559.5,934.2 1560.1,935.8 1560.6,935.9 1561.1,937.6 1561.6,939.1 1562.1,941.9 1562.7,943.0 1563.3,941.9 1564.0,943.4 1564.8,947.0 1565.6,946.9 1566.5,950.1 1567.4,950.8 1568.3,952.7 1569.3,953.6 1570.4,954.2 1571.5,953.9 1572.7,955.9 1573.9,957.1 1575.2,958.3 1576.6,960.7 1577.7,961.1 1578.8,960.1 1580.0,961.6 1581.2,964.7 1582.5,967.4 1583.8,965.4 1585.2,967.3 1586.5,966.1 1587.9,969.6 1589.3,970.4 1590.7,972.4 1592.1,972.3 1593.4,973.0 1594.8,972.2 1596.1,974.7 1597.8,974.3 1599.5,974.6 1601.2,976.1 1602.9,975.4 1604.7,978.0 1606.4,976.8 1608.1,976.6 1609.7,975.3 1611.4,975.4 1612.9,976.9 1614.3,977.6 1615.7,976.1 1617.8,975.5 1619.5,977.0 1621.1,978.7 1622.5,976.1 1624.0,976.0 1625.6,976.4 1627.4,976.6 1628.7,978.8 1630.0,979.3 1631.4,979.8 1632.9,978.8 1634.4,982.5 1635.9,981.7 1637.4,983.3 1638.9,984.8 1640.3,986.1 1641.7,985.0 1643.1,986.9 1644.8,985.7 1646.4,987.7 1648.1,988.6 1649.8,988.8 1651.4,987.8 1652.9,987.7 1654.3,988.3 1655.6,989.6 1656.8,988.6 1657.9,989.9 1658.8,992.6 1659.6,992.3 1660.2,994.3 1660.8,995.1 1661.4,997.2 1662.0,999.2 1662.7,1001.8 1663.0,1002.7 1663.3,1003.9 1663.7,1006.1 1664.0,1008.1 1664.3,1007.4 1664.6,1010.0 1665.0,1012.0 1665.3,1014.7 1665.6,1016.1 1665.9,1017.8 1666.2,1018.8 1666.6,1020.3 1666.9,1023.8 1667.2,1023.0 1667.5,1026.3 1667.9,1026.8 1668.2,1027.8 1668.5,1029.2 1669.8,1028.5 1671.0,1029.6 1672.4,1029.6 1674.4,1029.0 1675.5,1027.7 1676.6,1024.9 1677.9,1024.7 1679.3,1025.3 1680.8,1022.5 1682.2,1021.6 1683.7,1022.4 1685.2,1020.8 1686.7,1019.2 1688.1,1019.8 1689.6,1018.3 1691.1,1017.5 1692.7,1019.7 1694.2,1018.4 1695.7,1018.9 1697.2,1019.3 1698.8,1020.7 1700.3,1020.2 1701.8,1021.4 1703.3,1020.3 1704.8,1020.1 1706.4,1021.3 1707.9,1020.7 1709.4,1019.5 1710.9,1021.1 1712.5,1018.7 1714.0,1020.3 1715.5,1021.8 1716.6,1022.0 1717.6,1023.8 1718.7,1024.5 1719.8,1025.4 1720.9,1027.2 1721.9,1027.0 1723.0,1029.1 1724.1,1027.6 1725.1,1030.9 1726.2,1034.0 1727.2,1034.9 1728.2,1035.6 1729.2,1036.6 1730.1,1039.2 1731.0,1039.5 1731.8,1039.4 1732.7,1041.1 1733.5,1042.9 1734.3,1042.8 1735.2,1042.7 1736.0,1046.2 1736.8,1046.8 1737.6,1049.2 1738.4,1049.5 1739.2,1052.6 1740.1,1053.2 1740.9,1056.3 1741.4,1058.5 1741.8,1058.2 1742.3,1058.9 1742.7,1061.4 1743.2,1062.2 1743.7,1063.4 1744.1,1065.9 1744.6,1069.0 1745.1,1068.9 1745.5,1071.8 1746.0,1073.8 1746.5,1073.3 1746.9,1075.5 1747.4,1076.8 1747.8,1080.3 1748.3,1080.3 1748.8,1082.0 1749.2,1083.5 1749.7,1085.8 1750.1,1086.6 1750.6,1088.6 1751.0,1091.2 1751.4,1092.3 1751.9,1092.7 1752.3,1093.5 1752.7,1095.1 1753.4,1098.1 1754.1,1099.5 1754.8,1102.2 1755.5,1101.3 1756.2,1102.8 1756.8,1105.6 1757.5,1105.8 1758.1,1109.5 1758.7,1109.6 1759.4,1110.1 1760.0,1113.6 1760.6,1111.5 1761.3,1114.5 1761.9,1114.5 1762.5,1117.5 1763.3,1118.1 1764.2,1120.1 1765.0,1121.4 1765.9,1124.1 1766.7,1125.7 1767.5,1128.0 1768.3,1128.8 1769.1,1130.0 1769.8,1130.0 1770.6,1130.4 1771.3,1132.5 1772.4,1132.2 1773.4,1131.4 1774.3,1129.4 1775.2,1126.9 1776.1,1127.9 1777.1,1126.1 1778.1,1123.0 1778.8,1121.6 1779.5,1120.4 1780.2,1117.3 1780.9,1116.1 1781.6,1112.8 1782.4,1114.6 1783.1,1112.8 1783.8,1109.9 1784.6,1109.4 1785.3,1108.7 1786.0,1107.3 1787.1,1105.8 1788.3,1104.5 1789.4,1103.1 1790.6,1100.8 1791.7,1099.7 1792.8,1099.2 1793.8,1099.6 1795.1,1099.0 1796.3,1100.1 1797.4,1100.8 1798.6,1103.3 1800.0,1104.8 1801.3,1104.6 1802.6,1106.6 1803.9,1107.2 1805.4,1108.8 1806.9,1108.1 1808.6,1108.9 1809.8,1109.5 1811.1,1108.1 1812.4,1106.3 1813.8,1106.6 1815.1,1107.0 1816.5,1105.4 1817.9,1103.9 1819.2,1102.7 1820.5,1103.6 1821.4,1101.9 1822.3,1098.7 1823.2,1099.3 1824.1,1098.4 1824.9,1096.2 1825.8,1093.8 1826.6,1092.4 1827.4,1091.0 1828.3,1089.6 1829.1,1087.8 1829.9,1085.4 1830.8,1086.2 1831.5,1083.3 1832.1,1081.1 1832.8,1081.7 1833.5,1079.0 1834.1,1078.5 1834.8,1075.3 1835.4,1074.7 1836.1,1074.4 1836.7,1070.3 1837.4,1070.3 1838.1,1068.3 1838.8,1066.7 1839.6,1065.7 1840.3,1064.3 1841.1,1063.7 1841.9,1061.2 1842.8,1061.1 1843.6,1059.6 1844.5,1057.1 1845.4,1055.5 1846.3,1054.3 1847.3,1053.5 1848.2,1050.4 1849.2,1049.8 1850.1,1046.7 1851.1,1047.2 1852.0,1045.8 1852.9,1045.3 1853.9,1044.2 1854.8,1043.9 1856.3,1043.0 1857.8,1042.2 1859.4,1041.6 1860.9,1044.3 1862.4,1044.0 1863.9,1044.4 1865.5,1046.6 1867.0,1046.4 1868.5,1046.6 1870.0,1047.4 1871.5,1047.8 1873.0,1048.0 1874.5,1048.6 1876.0,1049.4 1877.5,1050.8 1879.0,1051.2 1880.6,1051.6 1882.2,1052.2 1883.6,1052.4 1885.0,1053.8 1886.5,1053.6 1888.0,1054.7 1889.5,1055.5 1891.0,1057.5 1892.4,1057.7 1893.8,1058.7 1895.2,1058.8 1896.4,1059.9 1897.6,1060.2 1899.7,1060.6 1901.5,1059.7 1903.0,1060.4 1904.5,1059.3 1906.2,1057.0 1907.6,1057.8 1909.0,1059.9 1910.5,1059.2 1911.9,1060.6 1913.4,1062.7 1914.9,1062.2 1916.4,1062.2 1917.8,1064.2 1919.1,1064.5 1920.5,1063.5 1921.8,1064.1 1923.3,1064.8 1924.9,1064.5 1926.7,1066.3 1927.7,1067.6 1928.7,1068.5 1929.8,1069.6 1930.9,1069.5 1932.1,1071.2 1933.4,1074.3 1934.6,1075.2 1935.9,1075.0 1937.1,1076.8 1938.4,1076.2 1939.6,1079.2 1940.7,1079.4 1941.8,1080.8 1942.8,1082.8 1943.8,1082.6 1945.2,1084.0 1946.5,1083.3 1947.6,1085.6 1948.7,1086.5 1949.7,1088.2 1950.7,1089.1 1951.7,1087.6 1952.8,1092.9 1954.1,1092.2 1955.0,1095.5 1955.9,1094.2 1956.8,1094.3 1957.8,1095.9 1958.7,1097.8 1959.7,1099.1 1960.7,1100.9 1961.8,1104.6 1962.8,1104.4 1963.8,1107.6 1964.8,1105.7 1965.8,1108.0 1966.8,1110.1 1967.8,1110.5 1969.1,1112.9 1970.4,1113.6 1971.8,1112.5 1973.2,1115.3 1974.6,1116.0 1976.0,1119.1 1977.3,1118.4 1978.5,1119.2 1979.6,1120.1 1980.6,1120.4 1981.5,1122.7 1982.8,1124.3 1983.4,1126.8 1983.8,1127.3 1984.2,1126.8 1984.9,1127.3 1986.3,1131.2 1987.9,1130.7 1989.8,1131.2 1991.8,1130.9 1992.5,1133.8 1993.3,1132.3 1994.1,1133.1 1994.9,1134.8 1995.8,1135.8 1996.6,1137.4 1997.5,1140.1 1998.4,1141.0 1999.3,1141.2 2000.3,1144.7 2001.2,1143.4 2002.1,1147.9 2003.0,1147.8 2004.0,1147.2 2004.9,1149.3 2005.9,1151.1 2006.9,1151.9 2007.8,1153.6 2008.8,1155.7 2009.8,1159.2 2010.9,1159.0 2011.9,1158.8 2012.9,1162.0 2014.0,1161.6 2014.9,1164.5 2015.7,1163.9 2016.7,1166.4 2017.6,1167.3 2018.5,1168.6 2019.4,1168.8 2020.4,1170.3 2021.3,1171.1 2022.3,1172.4 2023.2,1176.8 2024.1,1174.4 2025.0,1178.3 2025.9,1178.0 2026.8,1180.3 2027.7,1181.2 2029.1,1185.3 2030.5,1180.8 2031.9,1182.7 2033.2,1183.4 2034.6,1185.0 2035.9,1184.0 2037.2,1185.2 2038.5,1185.5 2039.7,1187.6 2041.1,1188.2 2042.5,1190.3 2043.8,1191.2 2045.2,1192.8 2046.5,1192.3 2047.7,1194.2 2048.9,1193.6 2050.0,1194.9 2051.9,1194.0 2053.5,1196.4 2055.1,1194.6 2056.8,1196.8 2057.8,1198.0 2058.9,1196.1 2060.0,1201.0 2061.2,1200.9 2062.4,1202.5 2063.5,1202.3 2064.5,1201.1 2065.4,1203.6 2066.3,1205.6 2067.0,1208.3 2067.6,1209.1 2068.3,1211.3 2068.9,1212.0 2069.6,1212.6 2070.5,1213.9 2071.9,1215.1 2073.5,1212.3 2075.2,1211.3 2077.1,1213.1 2079.1,1213.2 2080.0,1214.8 2080.9,1214.1 2081.9,1217.3 2082.9,1217.0 2083.9,1220.0 2085.0,1220.2 2086.0,1223.8 2087.1,1225.8 2088.1,1228.2 2089.2,1226.3 2090.1,1228.5 2091.1,1227.9 2092.7,1230.4 2094.3,1227.6 2095.9,1226.9 2097.4,1224.8 2098.9,1224.0 2100.2,1222.0 2101.4,1222.2 2102.6,1220.7 2103.5,1224.1 2104.2,1225.8 2105.1,1228.0 2106.5,1229.9 2107.7,1229.0 2109.2,1230.6 2110.8,1228.1 2112.5,1228.9 2114.2,1230.1 2115.8,1228.3 2117.3,1230.2 2118.5,1232.2 2119.2,1230.9 2119.8,1232.3 2120.4,1235.4 2120.9,1235.5 2121.3,1239.9 2121.7,1238.1 2122.0,1243.1 2122.4,1243.5 2122.8,1246.6 2123.2,1247.8 2123.6,1247.4 2124.2,1246.6 2124.9,1243.9 2125.5,1243.2 2126.2,1242.2 2126.9,1237.7 2127.5,1237.6 2128.2,1236.9 2128.8,1232.5 2129.4,1236.9 2130.0,1235.9 2130.7,1238.2 2131.4,1242.0 2132.0,1242.3 2132.6,1243.7 2133.1,1246.2 2133.6,1248.6 2133.9,1251.1" fill="none" stroke="#ff0000" stroke-width="6.3" stroke-linejoin="round" stroke-linecap="butt"/>
<polyline points="187.0,1077.0 187.9,1076.0 189.1,1077.4 190.5,1077.7 192.1,1076.3 193.8,1074.8 195.7,1076.6 197.6,1074.8 199.6,1076.5 201.0,1075.2 202.5,1073.4 204.2,1073.4 205.9,1074.0 207.6,1075.8 209.4,1073.1 211.2,1072.1 212.9,1072.2 214.6,1072.0 216.2,1071.3 217.7,1072.8 219.1,1071.0 221.2,1071.8 223.1,1072.8 224.8,1070.7 226.4,1071.2 227.9,1070.9 229.4,1072.4 230.9,1069.6 232.3,1071.0 233.6,1069.8 234.8,1068.9 236.1,1067.4 237.4,1065.3 238.9,1065.4 240.7,1065.1 242.0,1065.8 243.6,1064.6 245.2,1065.9 246.9,1065.3 248.7,1066.3 250.5,1064.2 252.3,1065.9 254.0,1065.7 255.6,1065.6 257.0,1066.0 258.3,1065.8 260.4,1066.7 261.9,1065.4 263.1,1065.6 264.4,1064.0 266.1,1063.6 267.5,1062.9 269.1,1062.6 270.8,1063.0 272.5,1063.2 274.2,1060.9 275.9,1059.6 277.5,1060.5 278.8,1062.1 280.3,1061.9 281.6,1063.1 282.7,1065.0 283.7,1065.8 284.7,1067.2 285.7,1069.2 287.3,1068.8 288.8,1069.6 290.2,1071.6 291.5,1071.7 291.9,1071.3 292.3,1073.4 292.7,1074.8 293.0,1076.3 293.3,1078.7 293.7,1080.1 294.0,1082.0 294.3,1083.3 294.7,1085.5 295.1,1085.7 295.5,1090.1 296.1,1089.2 296.7,1092.4 297.3,1094.4 297.9,1095.0 298.6,1095.7 299.3,1097.7 300.0,1100.4 300.6,1100.4 301.3,1103.1 301.7,1103.4 302.2,1105.8 302.6,1107.0 303.0,1108.2 303.5,1110.1 303.9,1112.7 304.3,1111.9 304.8,1115.3 305.2,1116.1 305.7,1117.4 306.2,1118.5 306.7,1120.0 307.2,1122.1 307.7,1124.3 308.2,1123.6 308.7,1126.9 309.2,1127.6 309.8,1129.7 310.3,1131.9 310.9,1133.5 311.4,1136.4 312.0,1135.8 312.6,1138.1 313.2,1138.3 313.8,1140.6 314.4,1142.6 315.0,1144.0 315.9,1145.8 316.8,1146.8 317.7,1150.3 318.7,1148.1 319.6,1150.9 320.6,1150.8 321.6,1151.2 322.7,1152.9 323.7,1155.0 324.8,1156.0 326.2,1156.0 327.5,1156.7 328.9,1157.0 330.3,1158.6 331.8,1157.8 333.3,1159.0 334.9,1159.6 336.6,1158.4 338.0,1160.3 339.5,1159.1 341.1,1160.4 342.7,1161.6 344.3,1161.1 345.9,1161.7 347.5,1163.1 349.1,1163.8 350.7,1165.0 352.2,1166.0 353.5,1166.0 354.9,1166.4 356.2,1166.3 357.5,1169.9 358.8,1168.5 360.0,1170.4 361.3,1170.8 362.5,1171.3 363.7,1173.3 364.8,1175.9 365.9,1176.1 367.1,1176.7 368.3,1178.4 369.4,1179.8 370.4,1179.4 371.4,1180.3 372.4,1181.4 373.5,1182.8 374.5,1184.9 375.7,1186.6 376.9,1187.4 378.1,1189.3 379.4,1188.0 380.7,1190.1 382.0,1190.1 383.3,1190.4 384.6,1191.4 386.0,1192.0 387.4,1195.4 388.6,1195.3 389.8,1197.1 391.0,1197.7 392.2,1197.2 393.5,1201.6 394.8,1200.0 396.0,1202.4 397.3,1203.0 398.6,1205.1 399.8,1207.3 401.1,1206.2 402.6,1207.4 404.2,1207.9 405.7,1208.2 407.3,1209.4 408.8,1210.0 410.4,1209.1 411.9,1210.5 413.4,1212.9 414.8,1212.6 416.4,1212.6 417.8,1214.1 419.3,1214.5 420.7,1216.4 422.1,1215.9 423.6,1217.9 425.0,1218.0 426.6,1217.3 428.0,1218.9 429.5,1219.2 431.0,1221.1 432.6,1218.5 434.1,1219.7 435.7,1220.2 437.2,1221.5 438.8,1222.7 440.3,1222.5 441.8,1221.8 443.2,1222.3 444.7,1222.5 446.1,1222.5 447.5,1221.1 449.0,1222.7 450.6,1222.4 452.2,1223.8 454.0,1222.5 455.4,1221.9 456.9,1224.1 458.5,1223.5 460.1,1225.2 461.7,1221.3 463.4,1223.4 465.1,1224.5 466.8,1223.0 468.5,1223.6 470.2,1223.4 471.9,1222.5 473.5,1222.3 475.1,1223.9 476.8,1223.2 478.4,1223.2 480.0,1224.7 481.7,1222.1 483.3,1222.8 484.9,1221.4 486.6,1223.8 488.2,1223.1 489.8,1223.4 491.5,1221.5 493.1,1220.8 494.7,1221.4 496.4,1221.5 498.0,1220.5 499.6,1221.6 501.3,1221.5 502.9,1221.4 504.5,1221.8 506.2,1221.8 507.8,1221.2 509.4,1220.8 511.1,1219.9 512.7,1219.2 514.3,1223.0 515.9,1222.5 517.4,1220.3 519.0,1221.4 520.5,1220.4 522.1,1222.2 523.6,1220.6 525.2,1221.6 526.9,1220.9 528.6,1221.3 530.3,1222.4 532.2,1222.3 533.7,1222.2 535.2,1223.1 536.8,1221.7 538.5,1223.4 540.2,1222.7 541.9,1221.0 543.6,1222.0 545.4,1223.0 547.1,1223.2 548.8,1221.2 550.5,1221.9 552.2,1221.5 553.8,1222.5 555.4,1221.0 556.8,1221.9 558.2,1221.0 560.2,1219.3 562.0,1221.7 563.6,1222.0 565.2,1220.6 566.6,1221.6 568.1,1222.4 569.6,1221.2 571.2,1220.2 572.9,1221.7 574.9,1219.7 576.2,1220.4 577.6,1219.8 578.9,1218.5 580.4,1218.8 581.8,1218.5 583.3,1218.8 584.8,1217.5 586.3,1216.2 587.9,1216.9 589.5,1216.8 591.1,1215.7 592.8,1215.6 594.5,1214.2 596.2,1213.6 598.0,1214.0 599.8,1213.1 601.1,1213.5 602.5,1210.2 603.9,1210.1 605.3,1210.1 606.8,1209.0 608.3,1210.9 609.8,1209.1 611.3,1208.7 612.8,1209.1 614.4,1207.0 615.9,1206.6 617.5,1205.3 619.1,1206.8 620.6,1204.3 622.2,1205.0 623.8,1202.9 625.4,1201.7 626.9,1203.0 628.5,1200.4 630.0,1201.4 631.6,1198.8 633.1,1199.1 634.6,1199.8 636.1,1197.5 637.6,1198.8 639.1,1195.4 640.7,1198.1 642.2,1196.7 643.7,1194.8 645.2,1196.8 646.7,1193.9 648.2,1192.7 649.7,1193.1 651.2,1193.9 652.7,1195.0 654.2,1190.3 655.7,1190.3 657.2,1189.2 658.7,1189.0 660.3,1188.9 661.8,1188.6 663.3,1186.9 664.8,1187.0 666.3,1186.2 667.8,1186.5 669.3,1184.2 670.8,1185.3 672.3,1182.6 673.9,1185.0 675.4,1184.0 676.9,1182.1 678.4,1181.8 679.9,1181.5 681.4,1179.9 682.9,1179.6 684.5,1181.7 686.0,1178.8 687.5,1177.9 689.0,1178.1 690.5,1176.7 692.0,1176.0 693.5,1176.4 695.1,1175.9 696.6,1174.0 698.1,1174.4 699.6,1172.5 701.1,1173.0 702.6,1172.4 704.1,1171.9 705.7,1171.7 707.2,1169.5 708.7,1169.9 710.2,1169.1 711.7,1169.3 713.2,1166.9 714.7,1168.0 716.3,1166.2 717.8,1165.8 719.3,1165.3 720.8,1166.0 722.3,1165.6 723.8,1165.6 725.3,1166.1 726.9,1164.1 728.4,1164.8 729.9,1162.7 731.4,1162.5 732.9,1162.9 734.5,1161.9 736.1,1161.3 737.7,1161.4 739.3,1161.5 740.9,1160.4 742.5,1160.5 744.1,1161.1 745.7,1161.0 747.3,1159.8 748.9,1160.9 750.5,1161.4 752.1,1159.9 753.7,1160.3 755.3,1160.3 756.9,1159.7 758.4,1159.0 760.0,1160.0 761.5,1158.8 763.1,1159.4 764.6,1158.8 766.1,1161.1 767.8,1159.1 769.4,1159.7 771.0,1159.1 772.6,1157.8 774.1,1158.8 775.7,1159.5 777.3,1157.0 778.8,1158.2 780.3,1159.9 781.9,1158.3 783.4,1158.5 785.0,1158.5 786.5,1159.0 788.1,1158.8 789.6,1157.9 791.2,1158.5 792.8,1157.9 794.5,1156.8 796.1,1157.0 797.6,1157.0 799.1,1157.6 800.6,1156.5 802.1,1155.8 803.6,1156.9 805.2,1156.4 806.7,1154.5 808.2,1154.7 809.8,1153.4 811.3,1152.8 812.9,1154.6 814.5,1153.2 816.1,1154.0 817.6,1151.1 819.2,1151.4 820.8,1151.3 822.4,1149.5 824.1,1149.8 825.7,1150.6 827.3,1149.1 829.0,1149.6 830.5,1147.2 831.9,1147.9 833.4,1148.4 834.9,1147.1 836.4,1146.6 837.9,1146.7 839.5,1146.7 841.0,1145.2 842.5,1145.1 844.1,1145.5 845.6,1144.7 847.2,1144.0 848.7,1143.4 850.3,1142.8 851.8,1143.1 853.4,1141.9 855.0,1140.4 856.5,1140.9 858.1,1140.5 859.6,1140.1 861.2,1140.3 862.7,1139.1 864.3,1138.8 865.8,1139.3 867.3,1137.5 868.9,1136.6 870.4,1138.0 871.9,1137.1 873.5,1135.3 875.0,1135.1 876.5,1135.6 878.0,1134.5 879.6,1136.1 881.1,1134.3 882.6,1135.1 884.2,1133.4 885.7,1133.7 887.2,1133.2 888.7,1133.0 890.3,1131.8 891.8,1131.7 893.3,1132.6 894.9,1131.2 896.4,1132.9 897.9,1128.6 899.4,1130.6 901.0,1130.2 902.5,1129.2 904.0,1128.4 905.6,1128.9 907.1,1127.8 908.6,1126.8 910.1,1127.3 911.7,1127.8 913.2,1126.6 914.7,1128.0 916.3,1126.6 917.8,1126.2 919.3,1124.4 920.9,1126.8 922.4,1125.3 923.9,1125.1 925.4,1123.9 927.0,1124.2 928.5,1120.7 930.0,1123.6 931.6,1122.0 933.1,1122.2 934.6,1121.9 936.1,1121.1 937.7,1120.1 939.2,1120.2 940.8,1119.2 942.4,1118.9 944.0,1120.2 945.6,1118.8 947.2,1119.3 948.8,1119.6 950.4,1118.7 952.0,1118.6 953.6,1118.5 955.2,1117.6 956.8,1116.7 958.4,1117.5 960.0,1115.7 961.5,1115.2 963.1,1116.3 964.7,1114.4 966.3,1114.7 967.9,1115.6 969.5,1115.1 971.1,1115.5 972.7,1115.6 974.3,1114.3 975.9,1113.5 977.5,1111.9 979.1,1112.5 980.7,1113.1 982.4,1112.3 984.0,1112.1 985.7,1112.6 987.3,1109.8 989.0,1110.1 990.7,1107.7 992.3,1109.6 994.0,1109.8 995.6,1109.5 997.2,1108.2 998.8,1107.7 1000.4,1107.2 1002.0,1106.7 1003.6,1106.3 1005.2,1106.4 1006.7,1106.0 1008.2,1106.7 1009.6,1106.5 1011.1,1106.3 1012.5,1104.2 1014.4,1105.6 1016.2,1105.2 1018.0,1104.9 1019.8,1102.6 1021.5,1102.7 1023.2,1103.2 1024.9,1103.8 1026.5,1102.5 1028.1,1101.8 1029.7,1103.0 1031.2,1102.5 1032.8,1102.6 1034.3,1102.0 1035.7,1100.7 1037.2,1100.7 1038.6,1100.0 1040.0,1100.6 1041.9,1100.4 1043.7,1100.2 1045.5,1098.9 1047.1,1100.1 1048.7,1099.8 1050.3,1100.0 1051.8,1099.6 1053.4,1099.7 1054.9,1099.5 1056.4,1098.3 1058.0,1097.2 1059.6,1098.9 1061.1,1097.2 1062.6,1096.5 1064.1,1095.9 1065.6,1096.7 1067.1,1096.3 1068.6,1097.2 1070.1,1094.5 1071.6,1095.1 1073.1,1094.6 1074.6,1094.0 1076.1,1093.5 1077.6,1094.5 1079.1,1092.7 1080.6,1091.2 1082.2,1092.3 1083.8,1092.2 1085.4,1090.1 1087.0,1089.7 1088.6,1090.4 1090.2,1089.4 1091.7,1089.9 1093.2,1089.4 1094.7,1085.4 1096.1,1088.7 1097.4,1086.6 1098.7,1086.9 1100.8,1086.0 1102.8,1086.3 1104.5,1086.4 1106.1,1083.5 1107.6,1085.4 1109.1,1082.5 1110.5,1085.0 1112.3,1083.5 1114.0,1079.4 1115.5,1081.1 1116.9,1080.9 1118.3,1079.2 1119.0,1080.2 1119.7,1081.7 1120.3,1085.8 1120.9,1085.5 1121.5,1086.8 1122.1,1090.2 1122.7,1092.1 1123.4,1090.8 1124.1,1091.4 1124.9,1091.9 1125.7,1087.6 1126.6,1092.1 1127.5,1089.0 1128.4,1085.1 1129.3,1083.5 1130.2,1084.8 1131.1,1080.7 1132.0,1080.8 1133.6,1077.2 1135.3,1079.1 1137.0,1084.1 1138.5,1084.3 1139.8,1083.3 1140.5,1085.1 1140.9,1082.9 1141.2,1078.9 1141.5,1074.3 1142.0,1077.3 1142.7,1074.4 1143.7,1072.8 1144.8,1071.1 1146.0,1074.8 1147.3,1073.3 1148.8,1078.7 1150.4,1077.3 1152.0,1079.7 1153.8,1077.2 1155.6,1077.5 1157.4,1078.8 1158.8,1078.4 1160.3,1076.7 1161.9,1076.9 1163.5,1078.7 1165.1,1078.7 1166.8,1078.1 1168.5,1079.8 1170.2,1081.3 1172.0,1077.8 1173.7,1077.4 1175.3,1082.1 1177.0,1077.9 1178.7,1081.1 1180.4,1077.0 1182.1,1075.3 1183.8,1080.2 1185.6,1079.1 1187.3,1077.3 1189.0,1079.0 1190.7,1080.6 1192.3,1077.5 1193.8,1075.7 1195.2,1075.4 1196.6,1077.3 1198.7,1081.3 1200.6,1081.3 1202.4,1079.3 1204.0,1080.7 1205.5,1079.6 1206.9,1080.7 1208.3,1078.1 1209.7,1081.7 1210.9,1076.1 1212.1,1076.0 1213.2,1073.4 1214.3,1073.5 1215.2,1071.6 1216.1,1068.6 1216.7,1071.0 1217.3,1073.5 1217.7,1073.5 1218.0,1078.1 1218.4,1080.2 1218.8,1081.1 1219.3,1085.7 1220.0,1084.3 1220.7,1083.1 1221.5,1083.9 1222.3,1083.1 1223.2,1078.1 1224.2,1080.2 1225.1,1076.2 1226.1,1075.2 1227.0,1075.2 1227.9,1075.1 1229.2,1070.4 1230.5,1070.0 1231.8,1067.1 1233.1,1067.4 1234.4,1066.6 1235.7,1065.7 1236.8,1065.6 1237.9,1068.6 1239.0,1070.4 1240.2,1072.7 1241.3,1069.7 1242.4,1072.7 1243.5,1072.4 1244.7,1071.0 1245.9,1072.6 1247.0,1078.1 1248.3,1079.1 1249.7,1078.8 1251.3,1079.6 1252.6,1077.8 1254.0,1078.2 1255.6,1075.2 1257.2,1078.0 1258.9,1074.3 1260.5,1073.8 1262.1,1072.3 1263.6,1075.5 1265.0,1073.5 1266.8,1072.1 1268.4,1071.6 1269.9,1071.9 1271.4,1076.9 1273.0,1075.3 1274.8,1074.2 1276.2,1077.0 1277.7,1075.4 1279.4,1074.5 1281.0,1074.6 1282.7,1075.9 1284.4,1072.2 1285.9,1072.5 1287.3,1072.4 1288.5,1073.2 1290.3,1072.3 1291.3,1075.0 1292.4,1076.7 1294.4,1077.8 1295.6,1076.4 1297.0,1077.4 1298.6,1077.4 1300.3,1077.8 1302.1,1076.4 1303.8,1077.8 1305.6,1077.3 1307.2,1078.8 1308.7,1078.5 1310.0,1079.1 1311.5,1080.8 1312.8,1081.3 1313.8,1081.2 1314.8,1084.3 1315.7,1086.2 1316.7,1086.3 1317.9,1088.0 1318.9,1088.4 1320.0,1089.3 1321.0,1091.5 1322.1,1090.8 1323.2,1094.5 1324.4,1094.9 1325.5,1095.8 1326.6,1097.0 1327.7,1098.6 1328.6,1098.4 1329.5,1101.5 1330.4,1104.5 1331.3,1102.5 1332.3,1104.4 1333.2,1105.1 1334.1,1107.6 1335.0,1109.1 1335.8,1110.0 1336.7,1111.9 1337.5,1112.7 1338.5,1113.8 1339.4,1114.0 1340.4,1116.5 1341.3,1117.6 1342.2,1119.5 1343.1,1121.0 1343.9,1121.6 1344.6,1123.3 1345.3,1125.0 1345.9,1126.3 1346.4,1127.0 1346.8,1128.7 1347.2,1130.7 1347.5,1132.3 1347.9,1133.2 1348.3,1134.3 1348.7,1136.4 1349.2,1137.6 1349.6,1140.1 1350.1,1140.0 1350.5,1143.1 1351.0,1141.7 1351.5,1144.5 1352.0,1146.9 1352.5,1148.7 1353.1,1150.0 1353.6,1151.3 1354.1,1153.0 1354.6,1154.1 1355.1,1156.0 1355.6,1155.7 1356.0,1158.5 1356.5,1158.2 1357.0,1161.3 1357.4,1161.7 1357.9,1163.3 1358.3,1164.1 1358.8,1166.8 1359.3,1168.5 1359.8,1168.9 1360.3,1171.0 1360.9,1175.0 1361.3,1175.4 1361.6,1175.4 1362.0,1177.2 1362.4,1178.6 1362.8,1178.1 1363.2,1181.9 1363.7,1183.5 1364.1,1185.5 1364.5,1185.8 1364.9,1188.7 1365.4,1188.7 1365.8,1191.6 1366.2,1193.3 1366.7,1193.4 1367.1,1196.9 1367.5,1198.5 1368.0,1199.4 1368.4,1201.6 1368.8,1202.0 1369.3,1204.0 1369.8,1206.4 1370.3,1208.6 1370.8,1210.1 1371.3,1210.8 1371.8,1211.5 1372.3,1213.5 1372.8,1215.3 1373.3,1216.9 1373.9,1218.4 1374.4,1219.4 1374.9,1222.5 1375.5,1224.2 1376.0,1223.6 1376.6,1226.7 1377.4,1228.1 1378.2,1229.7 1379.0,1231.6 1379.9,1234.3 1380.7,1234.9 1381.6,1234.2 1382.5,1235.7 1383.3,1237.7 1384.2,1238.0 1385.0,1240.7 1385.7,1240.9 1386.4,1241.7 1388.1,1243.0 1389.5,1240.9 1390.8,1240.5 1392.3,1237.2 1392.9,1236.5 1393.5,1235.2 1394.1,1233.6 1394.8,1232.5 1395.4,1232.0 1396.1,1232.1 1396.8,1228.0 1397.4,1228.1 1398.1,1225.8 1398.8,1223.5 1399.4,1221.1 1400.1,1220.7 1400.5,1218.1 1400.9,1218.6 1401.4,1214.7 1401.8,1214.1 1402.2,1212.5 1402.6,1211.9 1403.1,1210.1 1403.5,1206.4 1403.9,1206.9 1404.3,1205.2 1404.7,1203.6 1405.2,1201.7 1405.6,1201.0 1406.0,1196.1 1406.4,1195.9 1406.8,1194.5 1407.2,1193.7 1407.5,1192.4 1407.9,1189.9 1408.6,1188.6 1409.2,1185.7 1409.7,1185.5 1410.3,1182.1 1410.8,1182.1 1411.4,1180.0 1412.0,1178.9 1412.5,1177.2 1413.1,1177.4 1413.8,1175.9 1414.8,1174.3 1416.0,1172.7 1417.2,1170.9 1418.4,1169.1 1419.6,1169.1 1420.7,1167.4 1421.6,1166.6 1423.2,1165.7 1424.3,1165.1 1425.9,1167.4 1426.5,1165.4 1427.1,1168.5 1427.8,1168.8 1428.6,1170.0 1429.3,1172.5 1430.1,1172.6 1430.9,1174.3 1431.6,1176.8 1432.4,1179.5 1433.0,1179.6 1433.7,1181.4 1434.1,1181.9 1434.6,1185.1 1435.0,1186.5 1435.4,1187.3 1435.7,1188.5 1436.1,1191.2 1436.5,1192.4 1436.8,1195.1 1437.2,1194.6 1437.6,1198.1 1437.9,1198.6 1438.3,1199.7 1438.7,1201.4 1439.2,1204.5 1439.6,1204.5 1440.1,1207.0 1440.7,1208.1 1441.3,1210.7 1441.9,1212.1 1442.5,1213.3 1443.2,1215.3 1443.8,1217.5 1444.5,1217.5 1445.1,1219.3 1445.7,1220.9 1446.3,1222.6 1446.9,1222.6 1447.4,1225.7 1448.3,1222.8 1449.2,1223.4 1450.1,1222.0 1450.9,1221.6 1451.7,1219.9 1452.5,1217.9 1453.3,1216.4 1453.6,1213.9 1453.9,1212.4 1454.2,1212.2 1454.6,1210.7 1454.9,1208.1 1455.2,1206.8 1455.5,1205.0 1455.8,1204.1 1456.1,1203.0 1456.4,1200.6 1456.7,1197.7 1457.0,1197.7 1457.3,1195.2 1457.7,1194.4 1458.0,1193.4 1458.4,1190.6 1458.7,1188.9 1459.1,1188.5 1459.5,1184.8 1459.8,1184.9 1460.2,1182.1 1460.6,1181.7 1460.9,1180.7 1461.3,1179.2 1461.7,1176.6 1462.1,1175.0 1462.5,1174.6 1462.9,1172.2 1463.3,1170.7 1463.7,1169.4 1464.2,1167.2 1464.6,1165.4 1465.1,1164.5 1465.5,1163.1 1466.0,1161.1 1466.5,1159.2 1467.0,1157.9 1467.5,1157.1 1468.0,1154.5 1468.6,1155.4 1469.1,1151.6 1469.7,1150.8 1470.3,1148.4 1470.9,1148.2 1471.5,1146.9 1472.1,1143.6 1472.7,1142.3 1473.4,1141.7 1474.0,1139.7 1474.6,1138.5 1475.2,1137.2 1475.8,1135.0 1476.4,1133.5 1477.0,1132.8 1477.6,1131.8 1478.2,1131.0 1478.7,1128.4 1479.4,1127.9 1480.1,1124.8 1480.8,1124.4 1481.5,1121.9 1482.1,1120.4 1482.7,1120.8 1483.4,1119.6 1484.0,1116.9 1484.6,1116.3 1485.3,1113.9 1486.1,1113.0 1486.8,1111.0 1487.6,1109.7 1488.5,1110.9 1489.4,1109.0 1490.5,1106.7 1491.6,1105.6 1492.7,1103.4 1493.9,1103.1 1495.1,1100.7 1496.3,1099.5 1497.5,1098.1 1498.7,1097.7 1499.9,1095.7 1501.0,1095.7 1502.1,1095.4 1503.2,1093.9 1504.1,1094.1 1505.8,1093.4 1507.3,1093.1 1508.7,1094.2 1510.0,1094.0 1511.3,1096.9 1512.6,1096.0 1513.9,1097.8 1514.7,1097.8 1515.5,1099.8 1516.4,1101.0 1517.2,1101.0 1518.0,1102.9 1518.8,1103.5 1519.6,1105.4 1520.4,1106.9 1521.2,1108.0 1522.1,1109.5 1522.9,1110.8 1523.7,1113.5 1524.3,1113.6 1524.9,1116.3 1525.4,1117.4 1526.0,1118.6 1526.6,1119.2 1527.2,1122.3 1527.7,1122.2 1528.3,1124.3 1528.9,1126.1 1529.5,1126.8 1530.0,1128.8 1530.6,1128.6 1531.2,1131.3 1531.8,1133.7 1532.3,1137.0 1532.9,1135.3 1533.5,1138.2 1533.9,1140.6 1534.4,1140.2 1534.8,1142.0 1535.3,1142.9 1535.7,1145.9 1536.2,1146.7 1536.6,1148.4 1537.1,1150.3 1537.5,1152.6 1538.0,1153.6 1538.4,1154.1 1538.8,1156.2 1539.3,1156.4 1539.7,1160.3 1540.2,1161.2 1540.6,1161.7 1541.1,1163.2 1541.5,1165.7 1542.0,1166.7 1542.4,1169.4 1542.9,1169.6 1543.3,1171.7 1543.7,1173.3 1544.2,1175.7 1544.6,1176.1 1545.0,1177.3 1545.5,1180.3 1545.9,1180.9 1546.3,1183.0 1546.8,1184.2 1547.2,1185.8 1547.7,1188.5 1548.1,1190.2 1548.5,1190.9 1549.0,1191.1 1549.4,1194.8 1549.8,1195.8 1550.3,1197.6 1550.7,1198.6 1551.1,1202.4 1551.5,1201.2 1551.9,1203.8 1552.3,1203.5 1552.7,1206.3 1553.1,1208.2 1553.6,1208.8 1554.1,1210.5 1554.5,1213.6 1555.0,1213.3 1555.4,1216.2 1555.8,1217.1 1556.3,1219.4 1556.7,1220.4 1557.1,1222.6 1557.5,1223.0 1557.9,1224.8 1558.4,1225.0 1558.8,1228.3 1559.3,1229.6 1559.8,1230.0 1560.3,1231.2 1560.9,1232.2 1561.7,1235.4 1562.5,1236.1 1563.3,1237.1 1564.2,1238.6 1565.1,1240.4 1566.0,1242.1 1567.0,1242.8 1567.9,1244.9 1568.9,1246.1 1569.8,1245.9 1570.8,1247.7 1571.7,1249.1 1572.6,1250.1 1573.8,1251.5 1574.9,1254.9 1576.0,1255.2 1577.1,1255.4 1578.3,1255.3 1579.4,1258.1 1580.6,1258.9 1581.8,1261.2 1583.1,1262.3 1584.4,1261.8 1585.7,1263.7 1587.0,1263.7 1588.4,1263.6 1589.8,1265.4 1591.2,1266.3 1592.7,1266.6 1594.2,1267.4 1595.6,1269.0 1597.1,1268.0 1598.6,1267.7 1600.0,1268.6 1601.6,1270.1 1603.1,1268.5 1604.7,1267.6 1606.3,1268.5 1607.8,1267.2 1609.4,1268.4 1611.0,1266.0 1612.6,1264.8 1614.1,1265.9 1615.7,1264.7 1617.3,1263.9 1618.8,1264.8 1620.4,1266.0 1621.9,1263.6 1623.4,1264.6 1625.0,1266.3 1626.6,1265.0 1628.1,1264.9 1629.8,1265.5 1631.4,1266.4 1633.0,1266.7 1634.6,1266.5 1636.3,1266.4 1638.0,1265.6 1639.7,1266.0 1641.4,1265.8 1643.1,1266.7 1644.7,1267.0 1646.3,1269.1 1647.7,1268.1 1649.0,1269.0 1650.4,1271.1 1651.8,1269.8 1653.0,1271.3 1654.1,1272.2 1655.1,1273.3 1656.0,1275.8 1657.0,1276.3 1657.8,1277.9 1658.7,1278.9 1659.3,1280.5 1659.9,1282.5 1660.4,1283.6 1660.9,1285.3 1661.4,1287.3 1661.9,1287.3 1662.3,1289.5 1662.8,1290.4 1663.2,1293.5 1663.7,1292.6 1664.1,1295.7 1664.6,1296.8 1665.1,1298.5 1665.6,1301.1 1666.0,1303.4 1666.5,1304.4 1667.0,1306.2 1667.4,1307.5 1667.9,1310.7 1668.4,1311.4 1668.9,1313.0 1669.4,1313.4 1669.9,1316.8 1670.5,1315.4 1671.5,1315.3 1672.5,1315.2 1673.6,1313.4 1674.7,1311.5 1675.9,1308.4 1677.1,1308.6 1678.3,1307.2 1679.5,1307.3 1680.8,1304.5 1682.1,1305.6 1683.4,1304.3 1684.8,1303.8 1686.4,1303.7 1688.1,1302.9 1689.4,1303.7 1690.9,1302.7 1692.4,1304.1 1694.0,1305.3 1695.6,1306.0 1697.2,1305.3 1698.9,1307.9 1700.6,1306.0 1702.2,1309.7 1703.8,1307.3 1705.4,1308.0 1707.0,1307.9 1708.6,1309.1 1710.2,1309.4 1711.8,1308.6 1713.4,1309.8 1715.0,1310.7 1716.5,1310.4 1718.0,1310.5 1719.4,1314.0 1720.7,1312.4 1722.0,1312.7 1723.3,1314.3 1724.5,1316.6 1725.7,1316.8 1726.8,1317.6 1727.9,1317.2 1729.0,1319.8 1730.1,1319.5 1731.2,1323.0 1732.0,1323.8 1732.9,1326.2 1733.7,1326.4 1734.6,1328.0 1735.4,1329.8 1736.2,1331.1 1737.0,1331.3 1737.7,1334.9 1738.5,1335.2 1739.2,1336.6 1739.8,1337.0 1740.4,1338.9 1740.9,1340.1 1741.6,1341.3 1742.1,1343.0 1742.4,1344.7 1742.6,1346.7 1742.9,1347.8 1743.3,1350.2 1744.0,1351.1 1744.3,1351.6 1744.7,1352.5 1745.1,1356.4 1745.5,1358.4 1745.9,1358.2 1746.4,1359.5 1746.8,1359.0 1747.3,1360.2 1747.8,1365.6 1748.3,1364.5 1748.8,1367.3 1749.3,1368.9 1749.8,1370.9 1750.3,1370.9 1750.8,1373.0 1751.4,1376.5 1751.8,1378.3 1752.3,1380.0 1752.8,1379.5 1753.4,1379.8 1754.1,1384.2 1754.7,1385.0 1755.3,1386.9 1756.0,1386.7 1756.6,1388.2 1757.3,1391.8 1757.9,1391.3 1758.5,1392.6 1759.2,1394.7 1759.8,1397.0 1760.4,1397.1 1761.0,1397.3 1761.6,1399.2 1762.2,1401.3 1762.8,1402.7 1763.4,1405.1 1764.0,1406.3 1764.6,1406.7 1765.1,1409.6 1765.7,1411.6 1766.3,1414.1 1766.8,1415.4 1767.4,1417.6 1767.9,1416.9 1768.4,1418.4 1768.9,1420.7 1769.4,1421.8 1770.6,1423.3 1771.6,1421.3 1772.6,1418.6 1773.6,1416.3 1774.9,1414.4 1775.4,1412.7 1775.9,1412.3 1776.5,1412.0 1777.1,1408.6 1777.7,1408.8 1778.3,1405.1 1778.9,1404.6 1779.5,1402.2 1780.2,1400.9 1780.8,1397.2 1781.4,1397.1 1782.0,1396.8 1782.6,1392.8 1783.2,1390.5 1783.7,1391.7 1784.4,1388.8 1785.2,1386.4 1785.8,1384.8 1786.5,1383.3 1787.1,1381.2 1787.8,1380.6 1788.4,1377.4 1789.0,1377.6 1789.6,1375.4 1790.3,1375.8 1791.9,1373.4 1793.5,1375.3 1795.1,1374.3 1796.9,1375.1 1798.0,1375.8 1799.2,1377.8 1800.4,1379.2 1801.7,1380.1 1803.0,1381.1 1804.3,1381.8 1805.7,1383.8 1807.2,1382.6 1808.7,1382.4 1810.3,1382.5 1811.9,1382.8 1813.5,1382.5 1815.1,1380.3 1816.7,1380.8 1817.5,1376.3 1818.3,1375.4 1819.1,1376.1 1819.9,1373.1 1820.7,1373.4 1821.5,1371.5 1822.3,1369.6 1823.1,1367.8 1823.9,1367.4 1824.7,1366.1 1825.5,1363.6 1826.2,1364.3 1827.0,1360.0 1827.7,1359.9 1828.5,1357.7 1829.3,1357.6 1830.1,1354.4 1830.8,1353.6 1831.5,1354.1 1832.2,1352.0 1832.9,1351.5 1833.6,1346.9 1834.4,1347.7 1835.1,1345.7 1835.8,1345.1 1836.5,1341.3 1837.1,1339.5 1837.7,1338.3 1838.2,1337.9 1838.8,1336.1 1839.4,1336.0 1839.9,1333.1 1840.5,1331.4 1841.0,1330.7 1841.6,1328.9 1842.2,1326.3 1842.8,1325.1 1843.4,1325.1 1844.0,1322.2 1844.6,1322.1 1845.3,1319.4 1846.3,1319.2 1847.3,1315.9 1848.3,1315.7 1849.3,1314.3 1850.4,1312.8 1851.5,1310.4 1852.6,1309.4 1853.8,1310.7 1855.0,1308.8 1856.3,1309.5 1857.5,1308.6 1858.8,1309.9 1860.1,1307.9 1861.5,1309.3 1862.9,1310.2 1864.3,1310.5 1865.8,1312.0 1867.2,1312.9 1868.7,1313.6 1870.2,1316.0 1871.7,1314.6 1873.1,1316.1 1874.6,1318.0 1876.0,1316.7 1877.6,1320.8 1879.1,1320.1 1880.6,1321.4 1882.2,1320.8 1883.7,1321.0 1885.2,1322.1 1886.6,1323.5 1888.0,1324.2 1889.3,1324.6 1891.2,1326.9 1892.9,1326.5 1894.6,1325.4 1896.2,1326.5 1897.8,1325.7 1899.4,1325.7 1901.0,1327.4 1902.6,1325.9 1904.1,1326.1 1905.5,1324.7 1907.0,1324.4 1908.5,1322.9 1909.9,1322.2 1911.4,1322.6 1912.9,1323.1 1914.3,1321.6 1915.8,1320.3 1917.3,1320.5 1918.7,1320.6 1920.2,1321.3 1921.7,1321.3 1923.1,1321.6 1924.6,1321.6 1926.1,1322.2 1927.5,1324.6 1929.0,1324.5 1930.1,1325.2 1931.1,1326.1 1932.2,1328.5 1933.2,1328.4 1934.3,1330.3 1935.3,1330.5 1936.4,1330.6 1937.5,1334.0 1938.6,1333.3 1939.7,1336.4 1940.9,1336.7 1942.2,1339.1 1943.1,1339.2 1944.1,1340.6 1945.0,1339.9 1946.0,1340.8 1947.1,1342.5 1948.1,1345.6 1949.1,1345.2 1950.2,1346.7 1951.3,1348.4 1952.3,1350.4 1953.4,1351.1 1954.5,1351.6 1955.6,1353.6 1956.6,1356.0 1957.7,1355.1 1958.8,1357.3 1959.8,1357.4 1960.8,1358.2 1961.9,1358.6 1963.0,1361.5 1964.0,1362.4 1965.1,1364.3 1966.2,1364.4 1967.3,1365.6 1968.3,1367.2 1969.4,1368.3 1970.5,1370.1 1971.5,1371.5 1972.5,1372.7 1973.6,1373.9 1974.6,1374.8 1975.5,1376.1 1976.5,1376.8 1977.4,1378.0 1978.6,1378.7 1979.8,1380.4 1980.9,1382.5 1982.0,1381.6 1983.0,1384.7 1984.0,1383.8 1985.0,1384.3 1986.0,1387.0 1987.1,1388.2 1988.2,1388.4 1989.4,1390.8 1990.6,1391.6 1991.7,1392.4 1992.8,1392.2 1993.9,1394.3 1995.1,1394.7 1996.4,1396.6 1997.6,1397.0 1998.9,1399.2 2000.2,1400.0 2001.4,1400.1 2002.7,1401.5 2003.9,1402.9 2005.0,1402.5 2006.1,1403.5 2007.2,1406.0 2008.2,1406.2 2009.3,1408.5 2010.3,1410.3 2011.2,1409.3 2012.1,1411.4 2012.9,1412.2 2013.7,1413.5 2014.5,1414.4 2015.3,1415.7 2016.0,1416.3 2016.8,1420.7 2017.6,1422.3 2018.4,1421.5 2019.2,1421.9 2020.1,1424.4 2021.0,1427.3 2021.9,1429.6 2022.8,1429.1 2023.7,1430.3 2024.6,1432.7 2025.6,1434.0 2026.4,1436.5 2027.3,1436.8 2028.1,1438.2 2028.9,1440.0 2029.6,1441.1 2030.2,1441.9 2031.3,1443.0 2031.9,1445.0 2032.5,1445.9 2033.0,1447.4 2033.6,1448.2 2034.7,1449.3 2035.9,1449.3 2037.4,1448.1 2039.0,1447.5 2040.6,1446.7 2042.4,1446.6 2044.1,1445.5 2045.7,1447.3 2046.8,1447.3 2047.9,1446.8 2048.9,1449.0 2050.0,1448.6 2051.1,1450.7 2052.1,1454.5 2053.2,1451.9 2054.4,1455.9 2055.5,1455.3 2056.7,1457.5 2057.7,1456.8 2058.8,1461.1 2059.9,1460.3 2061.0,1462.6 2062.2,1462.8 2063.3,1464.4 2064.4,1465.6 2065.6,1467.2 2066.7,1468.2 2067.8,1468.7 2068.9,1469.6 2069.9,1470.4 2071.4,1469.4 2072.9,1471.8 2074.3,1472.3 2075.7,1472.1 2077.0,1473.6 2078.4,1474.5 2079.6,1476.8 2080.9,1476.9 2082.1,1475.5 2083.3,1476.1 2084.4,1479.5 2085.4,1481.0 2086.5,1481.5 2087.6,1482.2 2088.6,1483.7 2089.7,1487.6 2090.9,1487.7 2092.2,1486.4 2093.4,1486.4 2094.6,1490.0 2095.8,1489.2 2097.1,1490.3 2098.5,1493.3 2099.6,1491.4 2100.9,1495.0 2102.2,1495.9 2103.5,1496.0 2104.8,1498.1 2106.1,1496.9 2107.3,1497.9 2108.5,1498.9 2109.5,1500.9 2110.4,1501.3 2111.2,1502.2 2111.9,1506.0 2112.6,1507.8 2113.3,1509.3 2113.9,1512.5 2114.6,1514.2 2115.3,1514.7 2116.1,1513.9 2117.5,1514.6 2119.0,1513.9 2120.5,1512.6 2122.0,1511.4 2123.5,1509.2 2124.9,1509.0 2126.0,1511.7 2127.1,1512.2 2128.2,1512.1 2129.2,1513.0 2130.2,1518.6 2130.9,1518.2 2131.5,1518.3" fill="none" stroke="#000000" stroke-width="7.8" stroke-linejoin="round" stroke-linecap="butt"/>
<rect x="183.7" y="41" width="1954.7" height="1568.9" fill="none" stroke="#000" stroke-width="6.4"/>
<line x1="385.1" y1="1610" x2="385.1" y2="1641" stroke="#000" stroke-width="7"/>
<line x1="667.3" y1="1610" x2="667.3" y2="1641" stroke="#000" stroke-width="7"/>
<line x1="949.5" y1="1610" x2="949.5" y2="1641" stroke="#000" stroke-width="7"/>
<line x1="1231.7" y1="1610" x2="1231.7" y2="1641" stroke="#000" stroke-width="7"/>
<line x1="1513.9" y1="1610" x2="1513.9" y2="1641" stroke="#000" stroke-width="7"/>
<line x1="1796.1" y1="1610" x2="1796.1" y2="1641" stroke="#000" stroke-width="7"/>
<line x1="2078.3" y1="1610" x2="2078.3" y2="1641" stroke="#000" stroke-width="7"/>
<line x1="244.2" y1="1610" x2="244.2" y2="1625.7" stroke="#000" stroke-width="7"/>
<line x1="526.3" y1="1610" x2="526.3" y2="1625.7" stroke="#000" stroke-width="7"/>
<line x1="808.4" y1="1610" x2="808.4" y2="1625.7" stroke="#000" stroke-width="7"/>
<line x1="1090.6" y1="1610" x2="1090.6" y2="1625.7" stroke="#000" stroke-width="7"/>
<line x1="1372.8" y1="1610" x2="1372.8" y2="1625.7" stroke="#000" stroke-width="7"/>
<line x1="1655.0" y1="1610" x2="1655.0" y2="1625.7" stroke="#000" stroke-width="7"/>
<line x1="1937.2" y1="1610" x2="1937.2" y2="1625.7" stroke="#000" stroke-width="7"/>
<text transform="translate(385.1 1714.5) scale(1.000 1.040)" font-size="66.0" font-weight="normal" fill="#000" text-anchor="middle">3500</text>
<text transform="translate(667.3 1714.5) scale(1.000 1.040)" font-size="66.0" font-weight="normal" fill="#000" text-anchor="middle">3000</text>
<text transform="translate(949.5 1714.5) scale(1.000 1.040)" font-size="66.0" font-weight="normal" fill="#000" text-anchor="middle">2500</text>
<text transform="translate(1231.7 1714.5) scale(1.000 1.040)" font-size="66.0" font-weight="normal" fill="#000" text-anchor="middle">2000</text>
<text transform="translate(1513.9 1714.5) scale(1.000 1.040)" font-size="66.0" font-weight="normal" fill="#000" text-anchor="middle">1500</text>
<text transform="translate(1796.1 1714.5) scale(1.000 1.040)" font-size="66.0" font-weight="normal" fill="#000" text-anchor="middle">1000</text>
<text transform="translate(2078.3 1714.5) scale(1.000 1.040)" font-size="66.0" font-weight="normal" fill="#000" text-anchor="middle">500</text>
<line x1="442.5" y1="1321.2" x2="539.8" y2="1258.7" stroke="#000" stroke-width="4.5"/><polygon points="564.0,1243.1 530.1,1279.1 517.1,1259.0" fill="#000"/>
<line x1="596.9" y1="1392.6" x2="781.6" y2="1220.8" stroke="#000" stroke-width="4.5"/><polygon points="802.7,1201.2 775.7,1242.7 759.4,1225.1" fill="#000"/>
<line x1="1292.3" y1="1264.1" x2="1340.5" y2="1253.6" stroke="#000" stroke-width="4.5"/><polygon points="1368.6,1247.5 1324.2,1269.4 1319.1,1246.0" fill="#000"/>
<line x1="1343.2" y1="1417.8" x2="1431.2" y2="1258.9" stroke="#000" stroke-width="4.5"/><polygon points="1445.2,1233.7 1432.4,1281.5 1411.4,1269.9" fill="#000"/>
<line x1="1517.0" y1="1381.8" x2="1559.8" y2="1282.8" stroke="#000" stroke-width="4.5"/><polygon points="1571.2,1256.4 1563.2,1305.2 1541.1,1295.7" fill="#000"/>
<line x1="1664.4" y1="1440.9" x2="1664.4" y2="1346.7" stroke="#000" stroke-width="4.5"/><polygon points="1664.4,1317.9 1676.4,1365.9 1652.4,1365.9" fill="#000"/>
<line x1="1808.9" y1="1527.6" x2="1780.5" y2="1451.0" stroke="#000" stroke-width="4.5"/><polygon points="1770.5,1424.0 1798.4,1464.8 1775.9,1473.2" fill="#000"/>
<line x1="1908.0" y1="1476.8" x2="1844.2" y2="1401.8" stroke="#000" stroke-width="4.5"/><polygon points="1825.5,1379.9 1865.8,1408.7 1847.5,1424.2" fill="#000"/>
<text transform="translate(610.6 227.0) scale(1.000 1.040)" font-size="66.0" font-weight="bold" fill="#000080" text-anchor="start">S<tspan dx="2">L</tspan><tspan dx="0.5">P</tspan></text>
<text transform="translate(610.6 449.4) scale(1.000 1.040)" font-size="66.0" font-weight="bold" fill="#ff00ff" text-anchor="start">S<tspan dx="1">L</tspan><tspan dx="1.5">H</tspan></text>
<text transform="translate(605.5 661.5) scale(1.000 1.040)" font-size="66.0" font-weight="bold" fill="#0000ff" text-anchor="start">JC<tspan dx="1.5">P</tspan></text>
<text transform="translate(589.1 871.2) scale(1.000 1.040)" font-size="66.0" font-weight="bold" fill="#ff0000" text-anchor="start" letter-spacing="2.2">DPA</text>
<text transform="translate(608.1 1103.1) scale(1.000 1.040)" font-size="66.0" font-weight="bold" fill="#000" text-anchor="start">FDA</text>
<text transform="translate(328.1 1379.4) scale(1.000 1.040)" font-size="66.0" font-weight="bold" fill="#000" text-anchor="start">O-<tspan dx="2">H</tspan></text>
<text transform="translate(295.8 1456.8) scale(1.000 1.040)" font-size="66.0" font-weight="bold" fill="#000" text-anchor="start">v(C-H<tspan dx="3">)</tspan>+v(O-<tspan dx="2">H</tspan><tspan dx="3">)</tspan><tspan font-size="45" dy="18" dx="-4.5">hydrogen bond</tspan></text>
<text transform="translate(1123.0 1304.0) scale(1.000 1.040)" font-size="66.0" font-weight="bold" fill="#000" text-anchor="start">C=O</text>
<text transform="translate(1101.5 1479.5) scale(1.000 1.040)" font-size="66.0" font-weight="bold" fill="#000" text-anchor="start">C=C+<tspan dx="2.5">H</tspan><tspan font-size="44" dy="18" dx="2">2</tspan><tspan dy="-18" dx="-0.7">O</tspan></text>
<text transform="translate(1378.5 1432.3) scale(1.000 1.040)" font-size="66.0" font-weight="bold" fill="#000" text-anchor="start">COO<tspan dx="2.5">H</tspan></text>
<text transform="translate(1535.1 1510.5) scale(1.000 1.040)" font-size="66.0" font-weight="bold" fill="#000" text-anchor="start">C-O-C</text>
<text transform="translate(1716.6 1586.5) scale(1.000 1.040)" font-size="66.0" font-weight="bold" fill="#000" text-anchor="start">C-O</text>
<text transform="translate(1889.6 1542.8) scale(1.000 1.040)" font-size="66.0" font-weight="bold" fill="#000" text-anchor="start">COO<tspan dx="2.5">H</tspan></text>
<text transform="translate(684.0 1874.7) scale(1.000 1.030)" font-size="104.0" font-weight="bold" fill="#000" text-anchor="start">Wavenumber (cm<tspan font-size="69" dy="-43">-1</tspan><tspan dy="43">)</tspan></text>
<text transform="translate(110.9 1381.5) rotate(-90) scale(1 1.022)" font-size="105" font-weight="bold" fill="#000">ATR Transmittance(%)</text></g></svg>
</body></html>
